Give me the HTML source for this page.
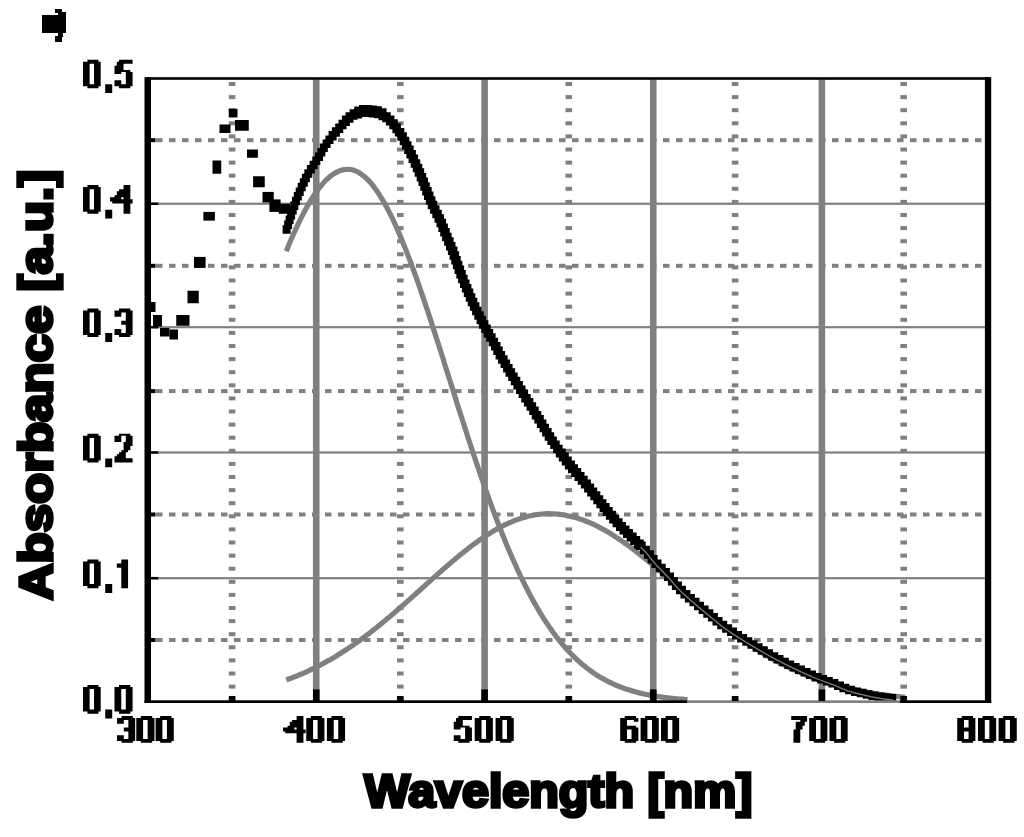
<!DOCTYPE html>
<html><head><meta charset="utf-8"><style>
html,body{margin:0;padding:0;background:#fff;overflow:hidden;}
svg{display:block;will-change:transform;} text{-webkit-font-smoothing:antialiased;}
</style></head><body>
<svg width="1024" height="837" viewBox="0 0 1024 837" >
<rect width="1024" height="837" fill="#fff"/>
<g>
<rect x="156.00" y="638.00" width="6.50" height="4.00" fill="#808080"/>
<rect x="169.00" y="638.00" width="6.50" height="4.00" fill="#808080"/>
<rect x="182.00" y="638.00" width="6.50" height="4.00" fill="#808080"/>
<rect x="195.00" y="638.00" width="6.50" height="4.00" fill="#808080"/>
<rect x="208.00" y="638.00" width="6.50" height="4.00" fill="#808080"/>
<rect x="221.00" y="638.00" width="6.50" height="4.00" fill="#808080"/>
<rect x="234.00" y="638.00" width="6.50" height="4.00" fill="#808080"/>
<rect x="247.00" y="638.00" width="6.50" height="4.00" fill="#808080"/>
<rect x="260.00" y="638.00" width="6.50" height="4.00" fill="#808080"/>
<rect x="273.00" y="638.00" width="6.50" height="4.00" fill="#808080"/>
<rect x="286.00" y="638.00" width="6.50" height="4.00" fill="#808080"/>
<rect x="299.00" y="638.00" width="6.50" height="4.00" fill="#808080"/>
<rect x="312.00" y="638.00" width="6.50" height="4.00" fill="#808080"/>
<rect x="325.00" y="638.00" width="6.50" height="4.00" fill="#808080"/>
<rect x="338.00" y="638.00" width="6.50" height="4.00" fill="#808080"/>
<rect x="351.00" y="638.00" width="6.50" height="4.00" fill="#808080"/>
<rect x="364.00" y="638.00" width="6.50" height="4.00" fill="#808080"/>
<rect x="377.00" y="638.00" width="6.50" height="4.00" fill="#808080"/>
<rect x="390.00" y="638.00" width="6.50" height="4.00" fill="#808080"/>
<rect x="403.00" y="638.00" width="6.50" height="4.00" fill="#808080"/>
<rect x="416.00" y="638.00" width="6.50" height="4.00" fill="#808080"/>
<rect x="429.00" y="638.00" width="6.50" height="4.00" fill="#808080"/>
<rect x="442.00" y="638.00" width="6.50" height="4.00" fill="#808080"/>
<rect x="455.00" y="638.00" width="6.50" height="4.00" fill="#808080"/>
<rect x="468.00" y="638.00" width="6.50" height="4.00" fill="#808080"/>
<rect x="481.00" y="638.00" width="6.50" height="4.00" fill="#808080"/>
<rect x="494.00" y="638.00" width="6.50" height="4.00" fill="#808080"/>
<rect x="507.00" y="638.00" width="6.50" height="4.00" fill="#808080"/>
<rect x="520.00" y="638.00" width="6.50" height="4.00" fill="#808080"/>
<rect x="533.00" y="638.00" width="6.50" height="4.00" fill="#808080"/>
<rect x="546.00" y="638.00" width="6.50" height="4.00" fill="#808080"/>
<rect x="559.00" y="638.00" width="6.50" height="4.00" fill="#808080"/>
<rect x="572.00" y="638.00" width="6.50" height="4.00" fill="#808080"/>
<rect x="585.00" y="638.00" width="6.50" height="4.00" fill="#808080"/>
<rect x="598.00" y="638.00" width="6.50" height="4.00" fill="#808080"/>
<rect x="611.00" y="638.00" width="6.50" height="4.00" fill="#808080"/>
<rect x="624.00" y="638.00" width="6.50" height="4.00" fill="#808080"/>
<rect x="637.00" y="638.00" width="6.50" height="4.00" fill="#808080"/>
<rect x="650.00" y="638.00" width="6.50" height="4.00" fill="#808080"/>
<rect x="663.00" y="638.00" width="6.50" height="4.00" fill="#808080"/>
<rect x="676.00" y="638.00" width="6.50" height="4.00" fill="#808080"/>
<rect x="689.00" y="638.00" width="6.50" height="4.00" fill="#808080"/>
<rect x="702.00" y="638.00" width="6.50" height="4.00" fill="#808080"/>
<rect x="715.00" y="638.00" width="6.50" height="4.00" fill="#808080"/>
<rect x="728.00" y="638.00" width="6.50" height="4.00" fill="#808080"/>
<rect x="741.00" y="638.00" width="6.50" height="4.00" fill="#808080"/>
<rect x="754.00" y="638.00" width="6.50" height="4.00" fill="#808080"/>
<rect x="767.00" y="638.00" width="6.50" height="4.00" fill="#808080"/>
<rect x="780.00" y="638.00" width="6.50" height="4.00" fill="#808080"/>
<rect x="793.00" y="638.00" width="6.50" height="4.00" fill="#808080"/>
<rect x="806.00" y="638.00" width="6.50" height="4.00" fill="#808080"/>
<rect x="819.00" y="638.00" width="6.50" height="4.00" fill="#808080"/>
<rect x="832.00" y="638.00" width="6.50" height="4.00" fill="#808080"/>
<rect x="845.00" y="638.00" width="6.50" height="4.00" fill="#808080"/>
<rect x="858.00" y="638.00" width="6.50" height="4.00" fill="#808080"/>
<rect x="871.00" y="638.00" width="6.50" height="4.00" fill="#808080"/>
<rect x="884.00" y="638.00" width="6.50" height="4.00" fill="#808080"/>
<rect x="897.00" y="638.00" width="6.50" height="4.00" fill="#808080"/>
<rect x="910.00" y="638.00" width="6.50" height="4.00" fill="#808080"/>
<rect x="923.00" y="638.00" width="6.50" height="4.00" fill="#808080"/>
<rect x="936.00" y="638.00" width="6.50" height="4.00" fill="#808080"/>
<rect x="949.00" y="638.00" width="6.50" height="4.00" fill="#808080"/>
<rect x="962.00" y="638.00" width="6.50" height="4.00" fill="#808080"/>
<rect x="975.00" y="638.00" width="6.50" height="4.00" fill="#808080"/>
<rect x="156.00" y="512.50" width="6.50" height="4.00" fill="#808080"/>
<rect x="169.00" y="512.50" width="6.50" height="4.00" fill="#808080"/>
<rect x="182.00" y="512.50" width="6.50" height="4.00" fill="#808080"/>
<rect x="195.00" y="512.50" width="6.50" height="4.00" fill="#808080"/>
<rect x="208.00" y="512.50" width="6.50" height="4.00" fill="#808080"/>
<rect x="221.00" y="512.50" width="6.50" height="4.00" fill="#808080"/>
<rect x="234.00" y="512.50" width="6.50" height="4.00" fill="#808080"/>
<rect x="247.00" y="512.50" width="6.50" height="4.00" fill="#808080"/>
<rect x="260.00" y="512.50" width="6.50" height="4.00" fill="#808080"/>
<rect x="273.00" y="512.50" width="6.50" height="4.00" fill="#808080"/>
<rect x="286.00" y="512.50" width="6.50" height="4.00" fill="#808080"/>
<rect x="299.00" y="512.50" width="6.50" height="4.00" fill="#808080"/>
<rect x="312.00" y="512.50" width="6.50" height="4.00" fill="#808080"/>
<rect x="325.00" y="512.50" width="6.50" height="4.00" fill="#808080"/>
<rect x="338.00" y="512.50" width="6.50" height="4.00" fill="#808080"/>
<rect x="351.00" y="512.50" width="6.50" height="4.00" fill="#808080"/>
<rect x="364.00" y="512.50" width="6.50" height="4.00" fill="#808080"/>
<rect x="377.00" y="512.50" width="6.50" height="4.00" fill="#808080"/>
<rect x="390.00" y="512.50" width="6.50" height="4.00" fill="#808080"/>
<rect x="403.00" y="512.50" width="6.50" height="4.00" fill="#808080"/>
<rect x="416.00" y="512.50" width="6.50" height="4.00" fill="#808080"/>
<rect x="429.00" y="512.50" width="6.50" height="4.00" fill="#808080"/>
<rect x="442.00" y="512.50" width="6.50" height="4.00" fill="#808080"/>
<rect x="455.00" y="512.50" width="6.50" height="4.00" fill="#808080"/>
<rect x="468.00" y="512.50" width="6.50" height="4.00" fill="#808080"/>
<rect x="481.00" y="512.50" width="6.50" height="4.00" fill="#808080"/>
<rect x="494.00" y="512.50" width="6.50" height="4.00" fill="#808080"/>
<rect x="507.00" y="512.50" width="6.50" height="4.00" fill="#808080"/>
<rect x="520.00" y="512.50" width="6.50" height="4.00" fill="#808080"/>
<rect x="533.00" y="512.50" width="6.50" height="4.00" fill="#808080"/>
<rect x="546.00" y="512.50" width="6.50" height="4.00" fill="#808080"/>
<rect x="559.00" y="512.50" width="6.50" height="4.00" fill="#808080"/>
<rect x="572.00" y="512.50" width="6.50" height="4.00" fill="#808080"/>
<rect x="585.00" y="512.50" width="6.50" height="4.00" fill="#808080"/>
<rect x="598.00" y="512.50" width="6.50" height="4.00" fill="#808080"/>
<rect x="611.00" y="512.50" width="6.50" height="4.00" fill="#808080"/>
<rect x="624.00" y="512.50" width="6.50" height="4.00" fill="#808080"/>
<rect x="637.00" y="512.50" width="6.50" height="4.00" fill="#808080"/>
<rect x="650.00" y="512.50" width="6.50" height="4.00" fill="#808080"/>
<rect x="663.00" y="512.50" width="6.50" height="4.00" fill="#808080"/>
<rect x="676.00" y="512.50" width="6.50" height="4.00" fill="#808080"/>
<rect x="689.00" y="512.50" width="6.50" height="4.00" fill="#808080"/>
<rect x="702.00" y="512.50" width="6.50" height="4.00" fill="#808080"/>
<rect x="715.00" y="512.50" width="6.50" height="4.00" fill="#808080"/>
<rect x="728.00" y="512.50" width="6.50" height="4.00" fill="#808080"/>
<rect x="741.00" y="512.50" width="6.50" height="4.00" fill="#808080"/>
<rect x="754.00" y="512.50" width="6.50" height="4.00" fill="#808080"/>
<rect x="767.00" y="512.50" width="6.50" height="4.00" fill="#808080"/>
<rect x="780.00" y="512.50" width="6.50" height="4.00" fill="#808080"/>
<rect x="793.00" y="512.50" width="6.50" height="4.00" fill="#808080"/>
<rect x="806.00" y="512.50" width="6.50" height="4.00" fill="#808080"/>
<rect x="819.00" y="512.50" width="6.50" height="4.00" fill="#808080"/>
<rect x="832.00" y="512.50" width="6.50" height="4.00" fill="#808080"/>
<rect x="845.00" y="512.50" width="6.50" height="4.00" fill="#808080"/>
<rect x="858.00" y="512.50" width="6.50" height="4.00" fill="#808080"/>
<rect x="871.00" y="512.50" width="6.50" height="4.00" fill="#808080"/>
<rect x="884.00" y="512.50" width="6.50" height="4.00" fill="#808080"/>
<rect x="897.00" y="512.50" width="6.50" height="4.00" fill="#808080"/>
<rect x="910.00" y="512.50" width="6.50" height="4.00" fill="#808080"/>
<rect x="923.00" y="512.50" width="6.50" height="4.00" fill="#808080"/>
<rect x="936.00" y="512.50" width="6.50" height="4.00" fill="#808080"/>
<rect x="949.00" y="512.50" width="6.50" height="4.00" fill="#808080"/>
<rect x="962.00" y="512.50" width="6.50" height="4.00" fill="#808080"/>
<rect x="975.00" y="512.50" width="6.50" height="4.00" fill="#808080"/>
<rect x="156.00" y="389.10" width="6.50" height="4.00" fill="#808080"/>
<rect x="169.00" y="389.10" width="6.50" height="4.00" fill="#808080"/>
<rect x="182.00" y="389.10" width="6.50" height="4.00" fill="#808080"/>
<rect x="195.00" y="389.10" width="6.50" height="4.00" fill="#808080"/>
<rect x="208.00" y="389.10" width="6.50" height="4.00" fill="#808080"/>
<rect x="221.00" y="389.10" width="6.50" height="4.00" fill="#808080"/>
<rect x="234.00" y="389.10" width="6.50" height="4.00" fill="#808080"/>
<rect x="247.00" y="389.10" width="6.50" height="4.00" fill="#808080"/>
<rect x="260.00" y="389.10" width="6.50" height="4.00" fill="#808080"/>
<rect x="273.00" y="389.10" width="6.50" height="4.00" fill="#808080"/>
<rect x="286.00" y="389.10" width="6.50" height="4.00" fill="#808080"/>
<rect x="299.00" y="389.10" width="6.50" height="4.00" fill="#808080"/>
<rect x="312.00" y="389.10" width="6.50" height="4.00" fill="#808080"/>
<rect x="325.00" y="389.10" width="6.50" height="4.00" fill="#808080"/>
<rect x="338.00" y="389.10" width="6.50" height="4.00" fill="#808080"/>
<rect x="351.00" y="389.10" width="6.50" height="4.00" fill="#808080"/>
<rect x="364.00" y="389.10" width="6.50" height="4.00" fill="#808080"/>
<rect x="377.00" y="389.10" width="6.50" height="4.00" fill="#808080"/>
<rect x="390.00" y="389.10" width="6.50" height="4.00" fill="#808080"/>
<rect x="403.00" y="389.10" width="6.50" height="4.00" fill="#808080"/>
<rect x="416.00" y="389.10" width="6.50" height="4.00" fill="#808080"/>
<rect x="429.00" y="389.10" width="6.50" height="4.00" fill="#808080"/>
<rect x="442.00" y="389.10" width="6.50" height="4.00" fill="#808080"/>
<rect x="455.00" y="389.10" width="6.50" height="4.00" fill="#808080"/>
<rect x="468.00" y="389.10" width="6.50" height="4.00" fill="#808080"/>
<rect x="481.00" y="389.10" width="6.50" height="4.00" fill="#808080"/>
<rect x="494.00" y="389.10" width="6.50" height="4.00" fill="#808080"/>
<rect x="507.00" y="389.10" width="6.50" height="4.00" fill="#808080"/>
<rect x="520.00" y="389.10" width="6.50" height="4.00" fill="#808080"/>
<rect x="533.00" y="389.10" width="6.50" height="4.00" fill="#808080"/>
<rect x="546.00" y="389.10" width="6.50" height="4.00" fill="#808080"/>
<rect x="559.00" y="389.10" width="6.50" height="4.00" fill="#808080"/>
<rect x="572.00" y="389.10" width="6.50" height="4.00" fill="#808080"/>
<rect x="585.00" y="389.10" width="6.50" height="4.00" fill="#808080"/>
<rect x="598.00" y="389.10" width="6.50" height="4.00" fill="#808080"/>
<rect x="611.00" y="389.10" width="6.50" height="4.00" fill="#808080"/>
<rect x="624.00" y="389.10" width="6.50" height="4.00" fill="#808080"/>
<rect x="637.00" y="389.10" width="6.50" height="4.00" fill="#808080"/>
<rect x="650.00" y="389.10" width="6.50" height="4.00" fill="#808080"/>
<rect x="663.00" y="389.10" width="6.50" height="4.00" fill="#808080"/>
<rect x="676.00" y="389.10" width="6.50" height="4.00" fill="#808080"/>
<rect x="689.00" y="389.10" width="6.50" height="4.00" fill="#808080"/>
<rect x="702.00" y="389.10" width="6.50" height="4.00" fill="#808080"/>
<rect x="715.00" y="389.10" width="6.50" height="4.00" fill="#808080"/>
<rect x="728.00" y="389.10" width="6.50" height="4.00" fill="#808080"/>
<rect x="741.00" y="389.10" width="6.50" height="4.00" fill="#808080"/>
<rect x="754.00" y="389.10" width="6.50" height="4.00" fill="#808080"/>
<rect x="767.00" y="389.10" width="6.50" height="4.00" fill="#808080"/>
<rect x="780.00" y="389.10" width="6.50" height="4.00" fill="#808080"/>
<rect x="793.00" y="389.10" width="6.50" height="4.00" fill="#808080"/>
<rect x="806.00" y="389.10" width="6.50" height="4.00" fill="#808080"/>
<rect x="819.00" y="389.10" width="6.50" height="4.00" fill="#808080"/>
<rect x="832.00" y="389.10" width="6.50" height="4.00" fill="#808080"/>
<rect x="845.00" y="389.10" width="6.50" height="4.00" fill="#808080"/>
<rect x="858.00" y="389.10" width="6.50" height="4.00" fill="#808080"/>
<rect x="871.00" y="389.10" width="6.50" height="4.00" fill="#808080"/>
<rect x="884.00" y="389.10" width="6.50" height="4.00" fill="#808080"/>
<rect x="897.00" y="389.10" width="6.50" height="4.00" fill="#808080"/>
<rect x="910.00" y="389.10" width="6.50" height="4.00" fill="#808080"/>
<rect x="923.00" y="389.10" width="6.50" height="4.00" fill="#808080"/>
<rect x="936.00" y="389.10" width="6.50" height="4.00" fill="#808080"/>
<rect x="949.00" y="389.10" width="6.50" height="4.00" fill="#808080"/>
<rect x="962.00" y="389.10" width="6.50" height="4.00" fill="#808080"/>
<rect x="975.00" y="389.10" width="6.50" height="4.00" fill="#808080"/>
<rect x="156.00" y="263.80" width="6.50" height="4.00" fill="#808080"/>
<rect x="169.00" y="263.80" width="6.50" height="4.00" fill="#808080"/>
<rect x="182.00" y="263.80" width="6.50" height="4.00" fill="#808080"/>
<rect x="195.00" y="263.80" width="6.50" height="4.00" fill="#808080"/>
<rect x="208.00" y="263.80" width="6.50" height="4.00" fill="#808080"/>
<rect x="221.00" y="263.80" width="6.50" height="4.00" fill="#808080"/>
<rect x="234.00" y="263.80" width="6.50" height="4.00" fill="#808080"/>
<rect x="247.00" y="263.80" width="6.50" height="4.00" fill="#808080"/>
<rect x="260.00" y="263.80" width="6.50" height="4.00" fill="#808080"/>
<rect x="273.00" y="263.80" width="6.50" height="4.00" fill="#808080"/>
<rect x="286.00" y="263.80" width="6.50" height="4.00" fill="#808080"/>
<rect x="299.00" y="263.80" width="6.50" height="4.00" fill="#808080"/>
<rect x="312.00" y="263.80" width="6.50" height="4.00" fill="#808080"/>
<rect x="325.00" y="263.80" width="6.50" height="4.00" fill="#808080"/>
<rect x="338.00" y="263.80" width="6.50" height="4.00" fill="#808080"/>
<rect x="351.00" y="263.80" width="6.50" height="4.00" fill="#808080"/>
<rect x="364.00" y="263.80" width="6.50" height="4.00" fill="#808080"/>
<rect x="377.00" y="263.80" width="6.50" height="4.00" fill="#808080"/>
<rect x="390.00" y="263.80" width="6.50" height="4.00" fill="#808080"/>
<rect x="403.00" y="263.80" width="6.50" height="4.00" fill="#808080"/>
<rect x="416.00" y="263.80" width="6.50" height="4.00" fill="#808080"/>
<rect x="429.00" y="263.80" width="6.50" height="4.00" fill="#808080"/>
<rect x="442.00" y="263.80" width="6.50" height="4.00" fill="#808080"/>
<rect x="455.00" y="263.80" width="6.50" height="4.00" fill="#808080"/>
<rect x="468.00" y="263.80" width="6.50" height="4.00" fill="#808080"/>
<rect x="481.00" y="263.80" width="6.50" height="4.00" fill="#808080"/>
<rect x="494.00" y="263.80" width="6.50" height="4.00" fill="#808080"/>
<rect x="507.00" y="263.80" width="6.50" height="4.00" fill="#808080"/>
<rect x="520.00" y="263.80" width="6.50" height="4.00" fill="#808080"/>
<rect x="533.00" y="263.80" width="6.50" height="4.00" fill="#808080"/>
<rect x="546.00" y="263.80" width="6.50" height="4.00" fill="#808080"/>
<rect x="559.00" y="263.80" width="6.50" height="4.00" fill="#808080"/>
<rect x="572.00" y="263.80" width="6.50" height="4.00" fill="#808080"/>
<rect x="585.00" y="263.80" width="6.50" height="4.00" fill="#808080"/>
<rect x="598.00" y="263.80" width="6.50" height="4.00" fill="#808080"/>
<rect x="611.00" y="263.80" width="6.50" height="4.00" fill="#808080"/>
<rect x="624.00" y="263.80" width="6.50" height="4.00" fill="#808080"/>
<rect x="637.00" y="263.80" width="6.50" height="4.00" fill="#808080"/>
<rect x="650.00" y="263.80" width="6.50" height="4.00" fill="#808080"/>
<rect x="663.00" y="263.80" width="6.50" height="4.00" fill="#808080"/>
<rect x="676.00" y="263.80" width="6.50" height="4.00" fill="#808080"/>
<rect x="689.00" y="263.80" width="6.50" height="4.00" fill="#808080"/>
<rect x="702.00" y="263.80" width="6.50" height="4.00" fill="#808080"/>
<rect x="715.00" y="263.80" width="6.50" height="4.00" fill="#808080"/>
<rect x="728.00" y="263.80" width="6.50" height="4.00" fill="#808080"/>
<rect x="741.00" y="263.80" width="6.50" height="4.00" fill="#808080"/>
<rect x="754.00" y="263.80" width="6.50" height="4.00" fill="#808080"/>
<rect x="767.00" y="263.80" width="6.50" height="4.00" fill="#808080"/>
<rect x="780.00" y="263.80" width="6.50" height="4.00" fill="#808080"/>
<rect x="793.00" y="263.80" width="6.50" height="4.00" fill="#808080"/>
<rect x="806.00" y="263.80" width="6.50" height="4.00" fill="#808080"/>
<rect x="819.00" y="263.80" width="6.50" height="4.00" fill="#808080"/>
<rect x="832.00" y="263.80" width="6.50" height="4.00" fill="#808080"/>
<rect x="845.00" y="263.80" width="6.50" height="4.00" fill="#808080"/>
<rect x="858.00" y="263.80" width="6.50" height="4.00" fill="#808080"/>
<rect x="871.00" y="263.80" width="6.50" height="4.00" fill="#808080"/>
<rect x="884.00" y="263.80" width="6.50" height="4.00" fill="#808080"/>
<rect x="897.00" y="263.80" width="6.50" height="4.00" fill="#808080"/>
<rect x="910.00" y="263.80" width="6.50" height="4.00" fill="#808080"/>
<rect x="923.00" y="263.80" width="6.50" height="4.00" fill="#808080"/>
<rect x="936.00" y="263.80" width="6.50" height="4.00" fill="#808080"/>
<rect x="949.00" y="263.80" width="6.50" height="4.00" fill="#808080"/>
<rect x="962.00" y="263.80" width="6.50" height="4.00" fill="#808080"/>
<rect x="975.00" y="263.80" width="6.50" height="4.00" fill="#808080"/>
<rect x="156.00" y="138.20" width="6.50" height="4.00" fill="#808080"/>
<rect x="169.00" y="138.20" width="6.50" height="4.00" fill="#808080"/>
<rect x="182.00" y="138.20" width="6.50" height="4.00" fill="#808080"/>
<rect x="195.00" y="138.20" width="6.50" height="4.00" fill="#808080"/>
<rect x="208.00" y="138.20" width="6.50" height="4.00" fill="#808080"/>
<rect x="221.00" y="138.20" width="6.50" height="4.00" fill="#808080"/>
<rect x="234.00" y="138.20" width="6.50" height="4.00" fill="#808080"/>
<rect x="247.00" y="138.20" width="6.50" height="4.00" fill="#808080"/>
<rect x="260.00" y="138.20" width="6.50" height="4.00" fill="#808080"/>
<rect x="273.00" y="138.20" width="6.50" height="4.00" fill="#808080"/>
<rect x="286.00" y="138.20" width="6.50" height="4.00" fill="#808080"/>
<rect x="299.00" y="138.20" width="6.50" height="4.00" fill="#808080"/>
<rect x="312.00" y="138.20" width="6.50" height="4.00" fill="#808080"/>
<rect x="325.00" y="138.20" width="6.50" height="4.00" fill="#808080"/>
<rect x="338.00" y="138.20" width="6.50" height="4.00" fill="#808080"/>
<rect x="351.00" y="138.20" width="6.50" height="4.00" fill="#808080"/>
<rect x="364.00" y="138.20" width="6.50" height="4.00" fill="#808080"/>
<rect x="377.00" y="138.20" width="6.50" height="4.00" fill="#808080"/>
<rect x="390.00" y="138.20" width="6.50" height="4.00" fill="#808080"/>
<rect x="403.00" y="138.20" width="6.50" height="4.00" fill="#808080"/>
<rect x="416.00" y="138.20" width="6.50" height="4.00" fill="#808080"/>
<rect x="429.00" y="138.20" width="6.50" height="4.00" fill="#808080"/>
<rect x="442.00" y="138.20" width="6.50" height="4.00" fill="#808080"/>
<rect x="455.00" y="138.20" width="6.50" height="4.00" fill="#808080"/>
<rect x="468.00" y="138.20" width="6.50" height="4.00" fill="#808080"/>
<rect x="481.00" y="138.20" width="6.50" height="4.00" fill="#808080"/>
<rect x="494.00" y="138.20" width="6.50" height="4.00" fill="#808080"/>
<rect x="507.00" y="138.20" width="6.50" height="4.00" fill="#808080"/>
<rect x="520.00" y="138.20" width="6.50" height="4.00" fill="#808080"/>
<rect x="533.00" y="138.20" width="6.50" height="4.00" fill="#808080"/>
<rect x="546.00" y="138.20" width="6.50" height="4.00" fill="#808080"/>
<rect x="559.00" y="138.20" width="6.50" height="4.00" fill="#808080"/>
<rect x="572.00" y="138.20" width="6.50" height="4.00" fill="#808080"/>
<rect x="585.00" y="138.20" width="6.50" height="4.00" fill="#808080"/>
<rect x="598.00" y="138.20" width="6.50" height="4.00" fill="#808080"/>
<rect x="611.00" y="138.20" width="6.50" height="4.00" fill="#808080"/>
<rect x="624.00" y="138.20" width="6.50" height="4.00" fill="#808080"/>
<rect x="637.00" y="138.20" width="6.50" height="4.00" fill="#808080"/>
<rect x="650.00" y="138.20" width="6.50" height="4.00" fill="#808080"/>
<rect x="663.00" y="138.20" width="6.50" height="4.00" fill="#808080"/>
<rect x="676.00" y="138.20" width="6.50" height="4.00" fill="#808080"/>
<rect x="689.00" y="138.20" width="6.50" height="4.00" fill="#808080"/>
<rect x="702.00" y="138.20" width="6.50" height="4.00" fill="#808080"/>
<rect x="715.00" y="138.20" width="6.50" height="4.00" fill="#808080"/>
<rect x="728.00" y="138.20" width="6.50" height="4.00" fill="#808080"/>
<rect x="741.00" y="138.20" width="6.50" height="4.00" fill="#808080"/>
<rect x="754.00" y="138.20" width="6.50" height="4.00" fill="#808080"/>
<rect x="767.00" y="138.20" width="6.50" height="4.00" fill="#808080"/>
<rect x="780.00" y="138.20" width="6.50" height="4.00" fill="#808080"/>
<rect x="793.00" y="138.20" width="6.50" height="4.00" fill="#808080"/>
<rect x="806.00" y="138.20" width="6.50" height="4.00" fill="#808080"/>
<rect x="819.00" y="138.20" width="6.50" height="4.00" fill="#808080"/>
<rect x="832.00" y="138.20" width="6.50" height="4.00" fill="#808080"/>
<rect x="845.00" y="138.20" width="6.50" height="4.00" fill="#808080"/>
<rect x="858.00" y="138.20" width="6.50" height="4.00" fill="#808080"/>
<rect x="871.00" y="138.20" width="6.50" height="4.00" fill="#808080"/>
<rect x="884.00" y="138.20" width="6.50" height="4.00" fill="#808080"/>
<rect x="897.00" y="138.20" width="6.50" height="4.00" fill="#808080"/>
<rect x="910.00" y="138.20" width="6.50" height="4.00" fill="#808080"/>
<rect x="923.00" y="138.20" width="6.50" height="4.00" fill="#808080"/>
<rect x="936.00" y="138.20" width="6.50" height="4.00" fill="#808080"/>
<rect x="949.00" y="138.20" width="6.50" height="4.00" fill="#808080"/>
<rect x="962.00" y="138.20" width="6.50" height="4.00" fill="#808080"/>
<rect x="975.00" y="138.20" width="6.50" height="4.00" fill="#808080"/>
<rect x="228.80" y="82.00" width="6.60" height="4.00" fill="#808080"/>
<rect x="228.80" y="95.10" width="6.60" height="4.00" fill="#808080"/>
<rect x="228.80" y="108.20" width="6.60" height="4.00" fill="#808080"/>
<rect x="228.80" y="121.30" width="6.60" height="4.00" fill="#808080"/>
<rect x="228.80" y="134.40" width="6.60" height="4.00" fill="#808080"/>
<rect x="228.80" y="147.50" width="6.60" height="4.00" fill="#808080"/>
<rect x="228.80" y="160.60" width="6.60" height="4.00" fill="#808080"/>
<rect x="228.80" y="173.70" width="6.60" height="4.00" fill="#808080"/>
<rect x="228.80" y="186.80" width="6.60" height="4.00" fill="#808080"/>
<rect x="228.80" y="199.90" width="6.60" height="4.00" fill="#808080"/>
<rect x="228.80" y="213.00" width="6.60" height="4.00" fill="#808080"/>
<rect x="228.80" y="226.10" width="6.60" height="4.00" fill="#808080"/>
<rect x="228.80" y="239.20" width="6.60" height="4.00" fill="#808080"/>
<rect x="228.80" y="252.30" width="6.60" height="4.00" fill="#808080"/>
<rect x="228.80" y="265.40" width="6.60" height="4.00" fill="#808080"/>
<rect x="228.80" y="278.50" width="6.60" height="4.00" fill="#808080"/>
<rect x="228.80" y="291.60" width="6.60" height="4.00" fill="#808080"/>
<rect x="228.80" y="304.70" width="6.60" height="4.00" fill="#808080"/>
<rect x="228.80" y="317.80" width="6.60" height="4.00" fill="#808080"/>
<rect x="228.80" y="330.90" width="6.60" height="4.00" fill="#808080"/>
<rect x="228.80" y="344.00" width="6.60" height="4.00" fill="#808080"/>
<rect x="228.80" y="357.10" width="6.60" height="4.00" fill="#808080"/>
<rect x="228.80" y="370.20" width="6.60" height="4.00" fill="#808080"/>
<rect x="228.80" y="383.30" width="6.60" height="4.00" fill="#808080"/>
<rect x="228.80" y="396.40" width="6.60" height="4.00" fill="#808080"/>
<rect x="228.80" y="409.50" width="6.60" height="4.00" fill="#808080"/>
<rect x="228.80" y="422.60" width="6.60" height="4.00" fill="#808080"/>
<rect x="228.80" y="435.70" width="6.60" height="4.00" fill="#808080"/>
<rect x="228.80" y="448.80" width="6.60" height="4.00" fill="#808080"/>
<rect x="228.80" y="461.90" width="6.60" height="4.00" fill="#808080"/>
<rect x="228.80" y="475.00" width="6.60" height="4.00" fill="#808080"/>
<rect x="228.80" y="488.10" width="6.60" height="4.00" fill="#808080"/>
<rect x="228.80" y="501.20" width="6.60" height="4.00" fill="#808080"/>
<rect x="228.80" y="514.30" width="6.60" height="4.00" fill="#808080"/>
<rect x="228.80" y="527.40" width="6.60" height="4.00" fill="#808080"/>
<rect x="228.80" y="540.50" width="6.60" height="4.00" fill="#808080"/>
<rect x="228.80" y="553.60" width="6.60" height="4.00" fill="#808080"/>
<rect x="228.80" y="566.70" width="6.60" height="4.00" fill="#808080"/>
<rect x="228.80" y="579.80" width="6.60" height="4.00" fill="#808080"/>
<rect x="228.80" y="592.90" width="6.60" height="4.00" fill="#808080"/>
<rect x="228.80" y="606.00" width="6.60" height="4.00" fill="#808080"/>
<rect x="228.80" y="619.10" width="6.60" height="4.00" fill="#808080"/>
<rect x="228.80" y="632.20" width="6.60" height="4.00" fill="#808080"/>
<rect x="228.80" y="645.30" width="6.60" height="4.00" fill="#808080"/>
<rect x="228.80" y="658.40" width="6.60" height="4.00" fill="#808080"/>
<rect x="228.80" y="671.50" width="6.60" height="4.00" fill="#808080"/>
<rect x="228.80" y="684.60" width="6.60" height="4.00" fill="#808080"/>
<rect x="228.80" y="697.70" width="6.60" height="2.30" fill="#808080"/>
<rect x="397.00" y="82.00" width="6.60" height="4.00" fill="#808080"/>
<rect x="397.00" y="95.10" width="6.60" height="4.00" fill="#808080"/>
<rect x="397.00" y="108.20" width="6.60" height="4.00" fill="#808080"/>
<rect x="397.00" y="121.30" width="6.60" height="4.00" fill="#808080"/>
<rect x="397.00" y="134.40" width="6.60" height="4.00" fill="#808080"/>
<rect x="397.00" y="147.50" width="6.60" height="4.00" fill="#808080"/>
<rect x="397.00" y="160.60" width="6.60" height="4.00" fill="#808080"/>
<rect x="397.00" y="173.70" width="6.60" height="4.00" fill="#808080"/>
<rect x="397.00" y="186.80" width="6.60" height="4.00" fill="#808080"/>
<rect x="397.00" y="199.90" width="6.60" height="4.00" fill="#808080"/>
<rect x="397.00" y="213.00" width="6.60" height="4.00" fill="#808080"/>
<rect x="397.00" y="226.10" width="6.60" height="4.00" fill="#808080"/>
<rect x="397.00" y="239.20" width="6.60" height="4.00" fill="#808080"/>
<rect x="397.00" y="252.30" width="6.60" height="4.00" fill="#808080"/>
<rect x="397.00" y="265.40" width="6.60" height="4.00" fill="#808080"/>
<rect x="397.00" y="278.50" width="6.60" height="4.00" fill="#808080"/>
<rect x="397.00" y="291.60" width="6.60" height="4.00" fill="#808080"/>
<rect x="397.00" y="304.70" width="6.60" height="4.00" fill="#808080"/>
<rect x="397.00" y="317.80" width="6.60" height="4.00" fill="#808080"/>
<rect x="397.00" y="330.90" width="6.60" height="4.00" fill="#808080"/>
<rect x="397.00" y="344.00" width="6.60" height="4.00" fill="#808080"/>
<rect x="397.00" y="357.10" width="6.60" height="4.00" fill="#808080"/>
<rect x="397.00" y="370.20" width="6.60" height="4.00" fill="#808080"/>
<rect x="397.00" y="383.30" width="6.60" height="4.00" fill="#808080"/>
<rect x="397.00" y="396.40" width="6.60" height="4.00" fill="#808080"/>
<rect x="397.00" y="409.50" width="6.60" height="4.00" fill="#808080"/>
<rect x="397.00" y="422.60" width="6.60" height="4.00" fill="#808080"/>
<rect x="397.00" y="435.70" width="6.60" height="4.00" fill="#808080"/>
<rect x="397.00" y="448.80" width="6.60" height="4.00" fill="#808080"/>
<rect x="397.00" y="461.90" width="6.60" height="4.00" fill="#808080"/>
<rect x="397.00" y="475.00" width="6.60" height="4.00" fill="#808080"/>
<rect x="397.00" y="488.10" width="6.60" height="4.00" fill="#808080"/>
<rect x="397.00" y="501.20" width="6.60" height="4.00" fill="#808080"/>
<rect x="397.00" y="514.30" width="6.60" height="4.00" fill="#808080"/>
<rect x="397.00" y="527.40" width="6.60" height="4.00" fill="#808080"/>
<rect x="397.00" y="540.50" width="6.60" height="4.00" fill="#808080"/>
<rect x="397.00" y="553.60" width="6.60" height="4.00" fill="#808080"/>
<rect x="397.00" y="566.70" width="6.60" height="4.00" fill="#808080"/>
<rect x="397.00" y="579.80" width="6.60" height="4.00" fill="#808080"/>
<rect x="397.00" y="592.90" width="6.60" height="4.00" fill="#808080"/>
<rect x="397.00" y="606.00" width="6.60" height="4.00" fill="#808080"/>
<rect x="397.00" y="619.10" width="6.60" height="4.00" fill="#808080"/>
<rect x="397.00" y="632.20" width="6.60" height="4.00" fill="#808080"/>
<rect x="397.00" y="645.30" width="6.60" height="4.00" fill="#808080"/>
<rect x="397.00" y="658.40" width="6.60" height="4.00" fill="#808080"/>
<rect x="397.00" y="671.50" width="6.60" height="4.00" fill="#808080"/>
<rect x="397.00" y="684.60" width="6.60" height="4.00" fill="#808080"/>
<rect x="397.00" y="697.70" width="6.60" height="2.30" fill="#808080"/>
<rect x="565.50" y="82.00" width="6.60" height="4.00" fill="#808080"/>
<rect x="565.50" y="95.10" width="6.60" height="4.00" fill="#808080"/>
<rect x="565.50" y="108.20" width="6.60" height="4.00" fill="#808080"/>
<rect x="565.50" y="121.30" width="6.60" height="4.00" fill="#808080"/>
<rect x="565.50" y="134.40" width="6.60" height="4.00" fill="#808080"/>
<rect x="565.50" y="147.50" width="6.60" height="4.00" fill="#808080"/>
<rect x="565.50" y="160.60" width="6.60" height="4.00" fill="#808080"/>
<rect x="565.50" y="173.70" width="6.60" height="4.00" fill="#808080"/>
<rect x="565.50" y="186.80" width="6.60" height="4.00" fill="#808080"/>
<rect x="565.50" y="199.90" width="6.60" height="4.00" fill="#808080"/>
<rect x="565.50" y="213.00" width="6.60" height="4.00" fill="#808080"/>
<rect x="565.50" y="226.10" width="6.60" height="4.00" fill="#808080"/>
<rect x="565.50" y="239.20" width="6.60" height="4.00" fill="#808080"/>
<rect x="565.50" y="252.30" width="6.60" height="4.00" fill="#808080"/>
<rect x="565.50" y="265.40" width="6.60" height="4.00" fill="#808080"/>
<rect x="565.50" y="278.50" width="6.60" height="4.00" fill="#808080"/>
<rect x="565.50" y="291.60" width="6.60" height="4.00" fill="#808080"/>
<rect x="565.50" y="304.70" width="6.60" height="4.00" fill="#808080"/>
<rect x="565.50" y="317.80" width="6.60" height="4.00" fill="#808080"/>
<rect x="565.50" y="330.90" width="6.60" height="4.00" fill="#808080"/>
<rect x="565.50" y="344.00" width="6.60" height="4.00" fill="#808080"/>
<rect x="565.50" y="357.10" width="6.60" height="4.00" fill="#808080"/>
<rect x="565.50" y="370.20" width="6.60" height="4.00" fill="#808080"/>
<rect x="565.50" y="383.30" width="6.60" height="4.00" fill="#808080"/>
<rect x="565.50" y="396.40" width="6.60" height="4.00" fill="#808080"/>
<rect x="565.50" y="409.50" width="6.60" height="4.00" fill="#808080"/>
<rect x="565.50" y="422.60" width="6.60" height="4.00" fill="#808080"/>
<rect x="565.50" y="435.70" width="6.60" height="4.00" fill="#808080"/>
<rect x="565.50" y="448.80" width="6.60" height="4.00" fill="#808080"/>
<rect x="565.50" y="461.90" width="6.60" height="4.00" fill="#808080"/>
<rect x="565.50" y="475.00" width="6.60" height="4.00" fill="#808080"/>
<rect x="565.50" y="488.10" width="6.60" height="4.00" fill="#808080"/>
<rect x="565.50" y="501.20" width="6.60" height="4.00" fill="#808080"/>
<rect x="565.50" y="514.30" width="6.60" height="4.00" fill="#808080"/>
<rect x="565.50" y="527.40" width="6.60" height="4.00" fill="#808080"/>
<rect x="565.50" y="540.50" width="6.60" height="4.00" fill="#808080"/>
<rect x="565.50" y="553.60" width="6.60" height="4.00" fill="#808080"/>
<rect x="565.50" y="566.70" width="6.60" height="4.00" fill="#808080"/>
<rect x="565.50" y="579.80" width="6.60" height="4.00" fill="#808080"/>
<rect x="565.50" y="592.90" width="6.60" height="4.00" fill="#808080"/>
<rect x="565.50" y="606.00" width="6.60" height="4.00" fill="#808080"/>
<rect x="565.50" y="619.10" width="6.60" height="4.00" fill="#808080"/>
<rect x="565.50" y="632.20" width="6.60" height="4.00" fill="#808080"/>
<rect x="565.50" y="645.30" width="6.60" height="4.00" fill="#808080"/>
<rect x="565.50" y="658.40" width="6.60" height="4.00" fill="#808080"/>
<rect x="565.50" y="671.50" width="6.60" height="4.00" fill="#808080"/>
<rect x="565.50" y="684.60" width="6.60" height="4.00" fill="#808080"/>
<rect x="565.50" y="697.70" width="6.60" height="2.30" fill="#808080"/>
<rect x="731.80" y="82.00" width="6.60" height="4.00" fill="#808080"/>
<rect x="731.80" y="95.10" width="6.60" height="4.00" fill="#808080"/>
<rect x="731.80" y="108.20" width="6.60" height="4.00" fill="#808080"/>
<rect x="731.80" y="121.30" width="6.60" height="4.00" fill="#808080"/>
<rect x="731.80" y="134.40" width="6.60" height="4.00" fill="#808080"/>
<rect x="731.80" y="147.50" width="6.60" height="4.00" fill="#808080"/>
<rect x="731.80" y="160.60" width="6.60" height="4.00" fill="#808080"/>
<rect x="731.80" y="173.70" width="6.60" height="4.00" fill="#808080"/>
<rect x="731.80" y="186.80" width="6.60" height="4.00" fill="#808080"/>
<rect x="731.80" y="199.90" width="6.60" height="4.00" fill="#808080"/>
<rect x="731.80" y="213.00" width="6.60" height="4.00" fill="#808080"/>
<rect x="731.80" y="226.10" width="6.60" height="4.00" fill="#808080"/>
<rect x="731.80" y="239.20" width="6.60" height="4.00" fill="#808080"/>
<rect x="731.80" y="252.30" width="6.60" height="4.00" fill="#808080"/>
<rect x="731.80" y="265.40" width="6.60" height="4.00" fill="#808080"/>
<rect x="731.80" y="278.50" width="6.60" height="4.00" fill="#808080"/>
<rect x="731.80" y="291.60" width="6.60" height="4.00" fill="#808080"/>
<rect x="731.80" y="304.70" width="6.60" height="4.00" fill="#808080"/>
<rect x="731.80" y="317.80" width="6.60" height="4.00" fill="#808080"/>
<rect x="731.80" y="330.90" width="6.60" height="4.00" fill="#808080"/>
<rect x="731.80" y="344.00" width="6.60" height="4.00" fill="#808080"/>
<rect x="731.80" y="357.10" width="6.60" height="4.00" fill="#808080"/>
<rect x="731.80" y="370.20" width="6.60" height="4.00" fill="#808080"/>
<rect x="731.80" y="383.30" width="6.60" height="4.00" fill="#808080"/>
<rect x="731.80" y="396.40" width="6.60" height="4.00" fill="#808080"/>
<rect x="731.80" y="409.50" width="6.60" height="4.00" fill="#808080"/>
<rect x="731.80" y="422.60" width="6.60" height="4.00" fill="#808080"/>
<rect x="731.80" y="435.70" width="6.60" height="4.00" fill="#808080"/>
<rect x="731.80" y="448.80" width="6.60" height="4.00" fill="#808080"/>
<rect x="731.80" y="461.90" width="6.60" height="4.00" fill="#808080"/>
<rect x="731.80" y="475.00" width="6.60" height="4.00" fill="#808080"/>
<rect x="731.80" y="488.10" width="6.60" height="4.00" fill="#808080"/>
<rect x="731.80" y="501.20" width="6.60" height="4.00" fill="#808080"/>
<rect x="731.80" y="514.30" width="6.60" height="4.00" fill="#808080"/>
<rect x="731.80" y="527.40" width="6.60" height="4.00" fill="#808080"/>
<rect x="731.80" y="540.50" width="6.60" height="4.00" fill="#808080"/>
<rect x="731.80" y="553.60" width="6.60" height="4.00" fill="#808080"/>
<rect x="731.80" y="566.70" width="6.60" height="4.00" fill="#808080"/>
<rect x="731.80" y="579.80" width="6.60" height="4.00" fill="#808080"/>
<rect x="731.80" y="592.90" width="6.60" height="4.00" fill="#808080"/>
<rect x="731.80" y="606.00" width="6.60" height="4.00" fill="#808080"/>
<rect x="731.80" y="619.10" width="6.60" height="4.00" fill="#808080"/>
<rect x="731.80" y="632.20" width="6.60" height="4.00" fill="#808080"/>
<rect x="731.80" y="645.30" width="6.60" height="4.00" fill="#808080"/>
<rect x="731.80" y="658.40" width="6.60" height="4.00" fill="#808080"/>
<rect x="731.80" y="671.50" width="6.60" height="4.00" fill="#808080"/>
<rect x="731.80" y="684.60" width="6.60" height="4.00" fill="#808080"/>
<rect x="731.80" y="697.70" width="6.60" height="2.30" fill="#808080"/>
<rect x="900.40" y="82.00" width="6.60" height="4.00" fill="#808080"/>
<rect x="900.40" y="95.10" width="6.60" height="4.00" fill="#808080"/>
<rect x="900.40" y="108.20" width="6.60" height="4.00" fill="#808080"/>
<rect x="900.40" y="121.30" width="6.60" height="4.00" fill="#808080"/>
<rect x="900.40" y="134.40" width="6.60" height="4.00" fill="#808080"/>
<rect x="900.40" y="147.50" width="6.60" height="4.00" fill="#808080"/>
<rect x="900.40" y="160.60" width="6.60" height="4.00" fill="#808080"/>
<rect x="900.40" y="173.70" width="6.60" height="4.00" fill="#808080"/>
<rect x="900.40" y="186.80" width="6.60" height="4.00" fill="#808080"/>
<rect x="900.40" y="199.90" width="6.60" height="4.00" fill="#808080"/>
<rect x="900.40" y="213.00" width="6.60" height="4.00" fill="#808080"/>
<rect x="900.40" y="226.10" width="6.60" height="4.00" fill="#808080"/>
<rect x="900.40" y="239.20" width="6.60" height="4.00" fill="#808080"/>
<rect x="900.40" y="252.30" width="6.60" height="4.00" fill="#808080"/>
<rect x="900.40" y="265.40" width="6.60" height="4.00" fill="#808080"/>
<rect x="900.40" y="278.50" width="6.60" height="4.00" fill="#808080"/>
<rect x="900.40" y="291.60" width="6.60" height="4.00" fill="#808080"/>
<rect x="900.40" y="304.70" width="6.60" height="4.00" fill="#808080"/>
<rect x="900.40" y="317.80" width="6.60" height="4.00" fill="#808080"/>
<rect x="900.40" y="330.90" width="6.60" height="4.00" fill="#808080"/>
<rect x="900.40" y="344.00" width="6.60" height="4.00" fill="#808080"/>
<rect x="900.40" y="357.10" width="6.60" height="4.00" fill="#808080"/>
<rect x="900.40" y="370.20" width="6.60" height="4.00" fill="#808080"/>
<rect x="900.40" y="383.30" width="6.60" height="4.00" fill="#808080"/>
<rect x="900.40" y="396.40" width="6.60" height="4.00" fill="#808080"/>
<rect x="900.40" y="409.50" width="6.60" height="4.00" fill="#808080"/>
<rect x="900.40" y="422.60" width="6.60" height="4.00" fill="#808080"/>
<rect x="900.40" y="435.70" width="6.60" height="4.00" fill="#808080"/>
<rect x="900.40" y="448.80" width="6.60" height="4.00" fill="#808080"/>
<rect x="900.40" y="461.90" width="6.60" height="4.00" fill="#808080"/>
<rect x="900.40" y="475.00" width="6.60" height="4.00" fill="#808080"/>
<rect x="900.40" y="488.10" width="6.60" height="4.00" fill="#808080"/>
<rect x="900.40" y="501.20" width="6.60" height="4.00" fill="#808080"/>
<rect x="900.40" y="514.30" width="6.60" height="4.00" fill="#808080"/>
<rect x="900.40" y="527.40" width="6.60" height="4.00" fill="#808080"/>
<rect x="900.40" y="540.50" width="6.60" height="4.00" fill="#808080"/>
<rect x="900.40" y="553.60" width="6.60" height="4.00" fill="#808080"/>
<rect x="900.40" y="566.70" width="6.60" height="4.00" fill="#808080"/>
<rect x="900.40" y="579.80" width="6.60" height="4.00" fill="#808080"/>
<rect x="900.40" y="592.90" width="6.60" height="4.00" fill="#808080"/>
<rect x="900.40" y="606.00" width="6.60" height="4.00" fill="#808080"/>
<rect x="900.40" y="619.10" width="6.60" height="4.00" fill="#808080"/>
<rect x="900.40" y="632.20" width="6.60" height="4.00" fill="#808080"/>
<rect x="900.40" y="645.30" width="6.60" height="4.00" fill="#808080"/>
<rect x="900.40" y="658.40" width="6.60" height="4.00" fill="#808080"/>
<rect x="900.40" y="671.50" width="6.60" height="4.00" fill="#808080"/>
<rect x="900.40" y="684.60" width="6.60" height="4.00" fill="#808080"/>
<rect x="900.40" y="697.70" width="6.60" height="2.30" fill="#808080"/>
<rect x="151.00" y="577.10" width="834.00" height="2.20" fill="#808080"/>
<rect x="151.00" y="451.40" width="834.00" height="2.20" fill="#808080"/>
<rect x="151.00" y="326.10" width="834.00" height="2.20" fill="#808080"/>
<rect x="151.00" y="202.65" width="834.00" height="2.20" fill="#808080"/>
<rect x="312.95" y="79.50" width="6.60" height="621.00" fill="#808080"/>
<rect x="481.30" y="79.50" width="6.60" height="621.00" fill="#808080"/>
<rect x="649.95" y="79.50" width="6.60" height="621.00" fill="#808080"/>
<rect x="818.60" y="79.50" width="6.60" height="621.00" fill="#808080"/>
<path d="M286.3,679.9 L287.9,679.3 L289.6,678.7 L291.3,678.1 L293.0,677.4 L294.7,676.8 L296.4,676.1 L298.1,675.4 L299.7,674.7 L301.4,674.0 L303.1,673.3 L304.8,672.5 L306.5,671.8 L308.2,671.0 L309.9,670.2 L311.5,669.4 L313.2,668.6 L314.9,667.8 L316.6,666.9 L318.3,666.1 L320.0,665.2 L321.7,664.3 L323.3,663.4 L325.0,662.5 L326.7,661.6 L328.4,660.6 L330.1,659.7 L331.8,658.7 L333.5,657.7 L335.2,656.7 L336.8,655.7 L338.5,654.6 L340.2,653.6 L341.9,652.5 L343.6,651.4 L345.3,650.3 L347.0,649.2 L348.6,648.1 L350.3,647.0 L352.0,645.8 L353.7,644.7 L355.4,643.5 L357.1,642.3 L358.8,641.1 L360.4,639.9 L362.1,638.6 L363.8,637.4 L365.5,636.1 L367.2,634.8 L368.9,633.6 L370.6,632.3 L372.2,630.9 L373.9,629.6 L375.6,628.3 L377.3,626.9 L379.0,625.6 L380.7,624.2 L382.4,622.8 L384.0,621.4 L385.7,620.0 L387.4,618.6 L389.1,617.2 L390.8,615.8 L392.5,614.3 L394.2,612.9 L395.8,611.4 L397.5,610.0 L399.2,608.5 L400.9,607.0 L402.6,605.6 L404.3,604.1 L406.0,602.6 L407.6,601.1 L409.3,599.6 L411.0,598.1 L412.7,596.6 L414.4,595.1 L416.1,593.5 L417.8,592.0 L419.5,590.5 L421.1,589.0 L422.8,587.5 L424.5,586.0 L426.2,584.4 L427.9,582.9 L429.6,581.4 L431.3,579.9 L432.9,578.4 L434.6,576.9 L436.3,575.4 L438.0,573.9 L439.7,572.4 L441.4,570.9 L443.1,569.4 L444.7,567.9 L446.4,566.5 L448.1,565.0 L449.8,563.6 L451.5,562.1 L453.2,560.7 L454.9,559.3 L456.5,557.9 L458.2,556.5 L459.9,555.1 L461.6,553.7 L463.3,552.4 L465.0,551.0 L466.7,549.7 L468.3,548.4 L470.0,547.1 L471.7,545.8 L473.4,544.5 L475.1,543.3 L476.8,542.1 L478.5,540.9 L480.1,539.7 L481.8,538.5 L483.5,537.4 L485.2,536.2 L486.9,535.1 L488.6,534.0 L490.3,533.0 L491.9,532.0 L493.6,530.9 L495.3,530.0 L497.0,529.0 L498.7,528.1 L500.4,527.2 L502.1,526.3 L503.8,525.4 L505.4,524.6 L507.1,523.8 L508.8,523.0 L510.5,522.3 L512.2,521.6 L513.9,520.9 L515.6,520.2 L517.2,519.6 L518.9,519.0 L520.6,518.4 L522.3,517.9 L524.0,517.4 L525.7,516.9 L527.4,516.5 L529.0,516.1 L530.7,515.7 L532.4,515.4 L534.1,515.0 L535.8,514.8 L537.5,514.5 L539.2,514.3 L540.8,514.1 L542.5,514.0 L544.2,513.9 L545.9,513.8 L547.6,513.7 L549.3,513.7 L551.0,513.8 L552.6,513.8 L554.3,513.9 L556.0,514.0 L557.7,514.1 L559.4,514.3 L561.1,514.5 L562.8,514.8 L564.4,515.0 L566.1,515.3 L567.8,515.7 L569.5,516.0 L571.2,516.4 L572.9,516.9 L574.6,517.3 L576.2,517.8 L577.9,518.3 L579.6,518.9 L581.3,519.4 L583.0,520.0 L584.7,520.7 L586.4,521.3 L588.1,522.0 L589.7,522.7 L591.4,523.5 L593.1,524.2 L594.8,525.0 L596.5,525.8 L598.2,526.7 L599.9,527.6 L601.5,528.5 L603.2,529.4 L604.9,530.3 L606.6,531.3 L608.3,532.3 L610.0,533.3 L611.7,534.3 L613.3,535.4 L615.0,536.5 L616.7,537.6 L618.4,538.7 L620.1,539.8 L621.8,541.0 L623.5,542.1 L625.1,543.3 L626.8,544.5 L628.5,545.8 L630.2,547.0 L631.9,548.3 L633.6,549.6 L635.3,550.9 L636.9,552.2 L638.6,553.5 L640.3,554.8 L642.0,556.2 L643.7,557.5 L645.4,558.9 L647.1,560.3 L648.7,561.6 L650.4,563.0 L652.1,564.4 L653.8,565.9 L655.5,567.3 L657.2,568.7 L658.9,570.2 L660.5,571.6 L662.2,573.1 L663.9,574.5 L665.6,576.0 L667.3,577.4 L669.0,578.9 L670.7,580.4 L672.4,581.9 L674.0,583.3 L675.7,584.8 L677.4,586.3 L679.1,587.8 L680.8,589.2 L682.5,590.7 L684.2,592.2 L685.8,593.7 L687.5,595.1 L689.2,596.6 L690.9,598.1 L692.6,599.6 L694.3,601.0 L696.0,602.5 L697.6,603.9 L699.3,605.4 L701.0,606.8 L702.7,608.2 L704.4,609.7 L706.1,611.1 L707.8,612.5 L709.4,613.9 L711.1,615.3 L712.8,616.7 L714.5,618.1 L716.2,619.5 L717.9,620.8 L719.6,622.2 L721.2,623.5 L722.9,624.9 L724.6,626.2 L726.3,627.5 L728.0,628.8 L729.7,630.1 L731.4,631.4 L733.0,632.7 L734.7,634.0 L736.4,635.2 L738.1,636.4 L739.8,637.7 L741.5,638.9 L743.2,640.1 L744.8,641.3 L746.5,642.4 L748.2,643.6 L749.9,644.7 L751.6,645.9 L753.3,647.0 L755.0,648.1 L756.7,649.2 L758.3,650.3 L760.0,651.3 L761.7,652.4 L763.4,653.4 L765.1,654.5 L766.8,655.5 L768.5,656.5 L770.1,657.4 L771.8,658.4 L773.5,659.4 L775.2,660.3 L776.9,661.2 L778.6,662.1 L780.3,663.0 L781.9,663.9 L783.6,664.8 L785.3,665.7 L787.0,666.5 L788.7,667.3 L790.4,668.1 L792.1,668.9 L793.7,669.7 L795.4,670.5 L797.1,671.3 L798.8,672.0 L800.5,672.7 L802.2,673.4 L803.9,674.2 L805.5,674.8 L807.2,675.5 L808.9,676.2 L810.6,676.8 L812.3,677.5 L814.0,678.1 L815.7,678.7 L817.3,679.3 L819.0,679.9 L820.7,680.5 L822.4,681.1 L824.1,681.6 L825.8,682.2 L827.5,682.7 L829.1,683.2 L830.8,683.7 L832.5,684.2 L834.2,684.7 L835.9,685.2 L837.6,685.7 L839.3,686.1 L841.0,686.5 L842.6,687.0 L844.3,687.4 L846.0,687.8 L847.7,688.2 L849.4,688.6 L851.1,689.0 L852.8,689.4 L854.4,689.7 L856.1,690.1 L857.8,690.5 L859.5,690.8 L861.2,691.1 L862.9,691.4 L864.6,691.8 L866.2,692.1 L867.9,692.4 L869.6,692.7 L871.3,692.9 L873.0,693.2 L874.7,693.5 L876.4,693.7 L878.0,694.0 L879.7,694.2 L881.4,694.5 L883.1,694.7 L884.8,694.9 L886.5,695.2 L888.2,695.4 L889.8,695.6 L891.5,695.8 L893.2,696.0 L894.9,696.2 L896.6,696.4 L898.3,696.5 L900.0,696.7 L901.6,696.9 L903.3,697.0 L905.0,697.2" fill="none" stroke="#808080" stroke-width="5.2" stroke-linejoin="round"/>
<path d="M286.3,251.2 L287.9,247.1 L289.6,243.1 L291.3,239.1 L293.0,235.3 L294.7,231.5 L296.4,227.8 L298.1,224.2 L299.7,220.8 L301.4,217.4 L303.1,214.1 L304.8,210.9 L306.5,207.8 L308.2,204.8 L309.9,201.9 L311.5,199.2 L313.2,196.5 L314.9,194.0 L316.6,191.5 L318.3,189.2 L320.0,187.0 L321.7,185.0 L323.3,183.0 L325.0,181.2 L326.7,179.5 L328.4,178.0 L330.1,176.5 L331.8,175.2 L333.5,174.0 L335.2,173.0 L336.8,172.1 L338.5,171.3 L340.2,170.6 L341.9,170.1 L343.6,169.7 L345.3,169.5 L347.0,169.3 L348.6,169.4 L350.3,169.5 L352.0,169.8 L353.7,170.3 L355.4,170.9 L357.1,171.6 L358.8,172.5 L360.4,173.6 L362.1,174.8 L363.8,176.1 L365.5,177.5 L367.2,179.1 L368.9,180.9 L370.6,182.7 L372.2,184.7 L373.9,186.9 L375.6,189.2 L377.3,191.6 L379.0,194.1 L380.7,196.8 L382.4,199.5 L384.0,202.4 L385.7,205.5 L387.4,208.6 L389.1,211.9 L390.8,215.2 L392.5,218.7 L394.2,222.3 L395.8,226.0 L397.5,229.8 L399.2,233.6 L400.9,237.6 L402.6,241.7 L404.3,245.9 L406.0,250.1 L407.6,254.4 L409.3,258.9 L411.0,263.3 L412.7,267.9 L414.4,272.5 L416.1,277.2 L417.8,282.0 L419.5,286.8 L421.1,291.7 L422.8,296.6 L424.5,301.6 L426.2,306.7 L427.9,311.7 L429.6,316.9 L431.3,322.0 L432.9,327.2 L434.6,332.4 L436.3,337.7 L438.0,342.9 L439.7,348.2 L441.4,353.5 L443.1,358.8 L444.7,364.2 L446.4,369.5 L448.1,374.9 L449.8,380.2 L451.5,385.6 L453.2,390.9 L454.9,396.2 L456.5,401.6 L458.2,406.9 L459.9,412.2 L461.6,417.5 L463.3,422.7 L465.0,428.0 L466.7,433.2 L468.3,438.4 L470.0,443.5 L471.7,448.7 L473.4,453.8 L475.1,458.8 L476.8,463.8 L478.5,468.8 L480.1,473.8 L481.8,478.7 L483.5,483.5 L485.2,488.3 L486.9,493.1 L488.6,497.8 L490.3,502.4 L491.9,507.0 L493.6,511.6 L495.3,516.1 L497.0,520.5 L498.7,524.9 L500.4,529.2 L502.1,533.4 L503.8,537.6 L505.4,541.8 L507.1,545.9 L508.8,549.9 L510.5,553.8 L512.2,557.7 L513.9,561.5 L515.6,565.3 L517.2,569.0 L518.9,572.6 L520.6,576.2 L522.3,579.7 L524.0,583.1 L525.7,586.5 L527.4,589.8 L529.0,593.0 L530.7,596.2 L532.4,599.3 L534.1,602.4 L535.8,605.3 L537.5,608.3 L539.2,611.1 L540.8,613.9 L542.5,616.6 L544.2,619.3 L545.9,621.9 L547.6,624.4 L549.3,626.9 L551.0,629.3 L552.6,631.7 L554.3,634.0 L556.0,636.3 L557.7,638.4 L559.4,640.6 L561.1,642.7 L562.8,644.7 L564.4,646.6 L566.1,648.6 L567.8,650.4 L569.5,652.2 L571.2,654.0 L572.9,655.7 L574.6,657.4 L576.2,659.0 L577.9,660.5 L579.6,662.0 L581.3,663.5 L583.0,664.9 L584.7,666.3 L586.4,667.7 L588.1,669.0 L589.7,670.2 L591.4,671.4 L593.1,672.6 L594.8,673.8 L596.5,674.9 L598.2,675.9 L599.9,677.0 L601.5,677.9 L603.2,678.9 L604.9,679.8 L606.6,680.7 L608.3,681.6 L610.0,682.4 L611.7,683.2 L613.3,684.0 L615.0,684.8 L616.7,685.5 L618.4,686.2 L620.1,686.8 L621.8,687.5 L623.5,688.1 L625.1,688.7 L626.8,689.3 L628.5,689.8 L630.2,690.3 L631.9,690.9 L633.6,691.3 L635.3,691.8 L636.9,692.3 L638.6,692.7 L640.3,693.1 L642.0,693.5 L643.7,693.9 L645.4,694.2 L647.1,694.6 L648.7,694.9 L650.4,695.2 L652.1,695.6 L653.8,695.8 L655.5,696.1 L657.2,696.4 L658.9,696.7 L660.5,696.9 L662.2,697.1 L663.9,697.4 L665.6,697.6 L667.3,697.8 L669.0,698.0 L670.7,698.2 L672.4,698.3 L674.0,698.5 L675.7,698.7 L677.4,698.8 L679.1,699.0 L680.8,699.1 L682.5,699.2 L684.2,699.4 L685.8,699.5 L687.5,699.6" fill="none" stroke="#808080" stroke-width="5.2" stroke-linejoin="round"/>
<path d="M289.6,230.3 L289.8,229.8 L290.0,229.1 L290.2,228.4 L290.5,227.5 L290.8,226.6 L291.1,225.6 L291.4,224.5 L291.8,223.5 L292.1,222.3 L292.5,221.2 L292.8,220.1 L293.2,219.0 L293.5,217.9 L293.9,216.9 L294.2,215.9 L294.5,215.0 L294.8,214.1 L295.1,213.2 L295.3,212.4 L295.6,211.5 L295.9,210.7 L296.2,209.8 L296.5,209.0 L296.8,208.2 L297.0,207.4 L297.3,206.6 L297.6,205.8 L297.9,205.0 L298.1,204.3 L298.4,203.5 L298.7,202.8 L298.9,202.1 L299.2,201.4 L299.4,200.7 L299.7,200.1 L299.9,199.5 L300.1,199.0 L300.3,198.4 L300.5,197.9 L300.7,197.3 L300.9,196.8 L301.2,196.2 L301.4,195.7 L301.6,195.1 L301.9,194.4 L302.2,193.8 L302.5,193.0 L302.9,192.3 L303.2,191.4 L303.6,190.5 L304.0,189.6 L304.4,188.7 L304.8,187.8 L305.2,186.8 L305.7,185.8 L306.1,184.8 L306.6,183.8 L307.1,182.7 L307.6,181.7 L308.1,180.7 L308.6,179.6 L309.1,178.6 L309.7,177.5 L310.2,176.5 L310.8,175.5 L311.4,174.4 L312.1,173.3 L312.8,172.1 L313.5,170.9 L314.3,169.8 L315.0,168.6 L315.8,167.4 L316.6,166.2 L317.3,165.0 L318.1,163.9 L318.8,162.7 L319.5,161.6 L320.2,160.6 L320.8,159.6 L321.4,158.6 L321.9,157.7 L322.4,156.8 L322.9,156.0 L323.3,155.3 L323.7,154.6 L324.0,153.9 L324.4,153.2 L324.7,152.6 L325.0,152.0 L325.3,151.4 L325.6,150.9 L326.0,150.3 L326.3,149.7 L326.7,149.1 L327.1,148.4 L327.6,147.7 L328.1,147.0 L328.6,146.3 L329.1,145.5 L329.6,144.8 L330.2,144.0 L330.7,143.2 L331.3,142.5 L331.9,141.7 L332.5,140.9 L333.1,140.1 L333.8,139.3 L334.5,138.5 L335.1,137.6 L335.8,136.8 L336.6,135.9 L337.3,135.0 L338.2,134.1 L339.0,133.1 L340.0,132.1 L340.9,131.1 L341.9,130.0 L342.9,128.9 L343.9,127.8 L345.0,126.8 L346.0,125.7 L347.0,124.7 L348.0,123.7 L349.0,122.7 L349.9,121.9 L350.8,121.1 L351.6,120.4 L352.3,119.8 L353.0,119.2 L353.7,118.8 L354.3,118.4 L354.9,118.0 L355.4,117.7 L356.0,117.5 L356.5,117.3 L357.0,117.1 L357.5,116.9 L358.0,116.7 L358.5,116.6 L359.0,116.4 L359.6,116.2 L360.1,116.1 L360.7,115.9 L361.3,115.7 L361.8,115.6 L362.2,115.4 L362.6,115.3 L362.9,115.3 L363.2,115.2 L363.5,115.1 L363.7,115.1 L363.9,115.1 L364.1,115.1 L364.4,115.1 L364.6,115.1 L365.0,115.1 L365.3,115.1 L365.7,115.1 L366.2,115.1 L366.8,115.2 L367.4,115.2 L368.1,115.2 L368.9,115.3 L369.6,115.3 L370.4,115.4 L371.2,115.4 L372.0,115.5 L372.8,115.6 L373.6,115.7 L374.4,115.8 L375.2,115.9 L375.9,116.0 L376.7,116.2 L377.3,116.4 L377.9,116.5 L378.5,116.7 L379.0,117.0 L379.6,117.2 L380.1,117.5 L380.7,117.8 L381.2,118.1 L381.7,118.4 L382.3,118.7 L382.8,119.1 L383.4,119.5 L383.9,119.9 L384.5,120.4 L385.1,120.8 L385.7,121.3 L386.3,121.8 L386.9,122.4 L387.5,123.0 L388.2,123.5 L388.8,124.1 L389.4,124.7 L390.1,125.4 L390.7,126.0 L391.3,126.7 L391.9,127.4 L392.6,128.2 L393.2,128.9 L393.8,129.7 L394.4,130.5 L395.0,131.3 L395.6,132.2 L396.1,133.0 L396.7,133.9 L397.3,134.7 L397.9,135.6 L398.4,136.5 L399.0,137.5 L399.5,138.4 L400.1,139.4 L400.6,140.4 L401.1,141.5 L401.7,142.5 L402.2,143.6 L402.8,144.6 L403.3,145.7 L403.9,146.9 L404.4,148.0 L405.0,149.1 L405.6,150.3 L406.1,151.4 L406.7,152.6 L407.3,153.8 L407.9,155.0 L408.5,156.2 L409.1,157.4 L409.7,158.7 L410.3,159.9 L410.9,161.2 L411.5,162.4 L412.1,163.7 L412.6,165.0 L413.2,166.3 L413.8,167.5 L414.4,168.8 L414.9,170.0 L415.5,171.3 L416.0,172.5 L416.5,173.8 L417.1,175.0 L417.6,176.3 L418.1,177.6 L418.6,178.9 L419.2,180.1 L419.7,181.4 L420.2,182.7 L420.7,184.0 L421.2,185.2 L421.7,186.4 L422.1,187.7 L422.6,188.9 L423.1,190.0 L423.6,191.2 L424.0,192.3 L424.4,193.4 L424.9,194.4 L425.3,195.5 L425.7,196.5 L426.1,197.5 L426.5,198.5 L426.9,199.5 L427.3,200.5 L427.7,201.5 L428.0,202.5 L428.4,203.5 L428.9,204.4 L429.3,205.4 L429.7,206.3 L430.1,207.3 L430.6,208.3 L431.0,209.2 L431.5,210.1 L431.9,211.0 L432.4,211.9 L432.8,212.8 L433.3,213.7 L433.7,214.5 L434.2,215.4 L434.6,216.2 L435.1,217.1 L435.5,217.9 L435.9,218.7 L436.3,219.6 L436.7,220.4 L437.1,221.3 L437.5,222.2 L437.9,223.1 L438.3,224.0 L438.6,224.9 L439.0,225.8 L439.4,226.7 L439.7,227.6 L440.1,228.6 L440.5,229.5 L440.8,230.5 L441.2,231.4 L441.6,232.4 L441.9,233.3 L442.3,234.3 L442.7,235.2 L443.1,236.2 L443.5,237.1 L443.8,238.0 L444.2,238.9 L444.6,239.7 L444.9,240.5 L445.3,241.3 L445.6,242.1 L446.0,242.9 L446.4,243.8 L446.7,244.7 L447.1,245.6 L447.5,246.5 L448.0,247.6 L448.4,248.7 L448.9,249.9 L449.4,251.1 L449.9,252.5 L450.4,254.0 L451.0,255.5 L451.6,257.1 L452.2,258.8 L452.8,260.6 L453.4,262.4 L454.1,264.2 L454.7,266.1 L455.4,268.0 L456.1,269.9 L456.8,271.8 L457.5,273.7 L458.2,275.5 L458.9,277.4 L459.6,279.1 L460.3,280.9 L461.0,282.7 L461.7,284.5 L462.5,286.4 L463.2,288.2 L464.0,290.0 L464.8,291.8 L465.5,293.7 L466.3,295.5 L467.1,297.3 L467.8,299.0 L468.6,300.8 L469.4,302.5 L470.1,304.1 L470.8,305.7 L471.6,307.3 L472.3,308.8 L473.0,310.3 L473.7,311.8 L474.3,313.2 L475.0,314.6 L475.7,315.9 L476.4,317.3 L477.0,318.6 L477.7,319.8 L478.4,321.1 L479.0,322.3 L479.7,323.6 L480.3,324.8 L480.9,326.0 L481.6,327.2 L482.2,328.5 L482.9,329.7 L483.5,330.9 L484.2,332.1 L484.9,333.3 L485.5,334.5 L486.2,335.7 L486.8,336.8 L487.5,338.0 L488.1,339.1 L488.7,340.2 L489.4,341.3 L490.0,342.4 L490.6,343.4 L491.1,344.5 L491.7,345.5 L492.3,346.5 L492.8,347.5 L493.3,348.4 L493.8,349.3 L494.2,350.2 L494.7,351.0 L495.1,351.9 L495.6,352.7 L496.0,353.5 L496.4,354.3 L496.9,355.2 L497.3,356.0 L497.8,356.9 L498.2,357.7 L498.7,358.6 L499.2,359.6 L499.8,360.5 L500.3,361.5 L500.9,362.5 L501.5,363.6 L502.1,364.6 L502.8,365.7 L503.4,366.8 L504.0,367.8 L504.7,368.9 L505.3,370.0 L506.0,371.1 L506.6,372.2 L507.3,373.3 L507.9,374.4 L508.6,375.5 L509.2,376.5 L509.8,377.6 L510.5,378.6 L511.1,379.7 L511.7,380.7 L512.3,381.8 L513.0,382.8 L513.6,383.9 L514.2,384.9 L514.8,385.9 L515.5,387.0 L516.1,388.0 L516.7,389.0 L517.3,390.0 L518.0,391.1 L518.6,392.1 L519.2,393.1 L519.9,394.1 L520.5,395.1 L521.1,396.2 L521.7,397.2 L522.4,398.2 L523.0,399.2 L523.6,400.2 L524.3,401.2 L524.9,402.2 L525.5,403.1 L526.1,404.1 L526.7,405.1 L527.4,406.1 L528.0,407.1 L528.6,408.1 L529.2,409.1 L529.9,410.1 L530.5,411.1 L531.1,412.1 L531.7,413.2 L532.3,414.2 L533.0,415.2 L533.6,416.2 L534.2,417.3 L534.8,418.3 L535.4,419.3 L536.1,420.4 L536.7,421.4 L537.3,422.4 L537.9,423.5 L538.6,424.5 L539.2,425.6 L539.9,426.6 L540.5,427.6 L541.1,428.6 L541.7,429.6 L542.3,430.6 L542.9,431.6 L543.5,432.6 L544.1,433.7 L544.7,434.7 L545.3,435.7 L545.9,436.8 L546.6,437.9 L547.3,439.0 L548.0,440.1 L548.8,441.3 L549.6,442.5 L550.5,443.7 L551.4,445.0 L552.3,446.4 L553.3,447.8 L554.3,449.2 L555.3,450.6 L556.4,452.1 L557.5,453.6 L558.6,455.1 L559.7,456.6 L560.8,458.1 L562.0,459.6 L563.1,461.1 L564.3,462.6 L565.4,464.0 L566.5,465.5 L567.6,466.9 L568.7,468.3 L569.8,469.6 L570.9,471.0 L572.1,472.4 L573.2,473.7 L574.3,475.1 L575.5,476.4 L576.6,477.7 L577.7,479.0 L578.8,480.3 L579.9,481.6 L581.0,482.9 L582.1,484.1 L583.1,485.4 L584.2,486.6 L585.2,487.9 L586.2,489.1 L587.2,490.4 L588.2,491.6 L589.2,492.8 L590.1,494.1 L591.1,495.3 L592.0,496.5 L593.0,497.7 L593.9,498.9 L594.8,500.1 L595.8,501.2 L596.7,502.4 L597.6,503.5 L598.5,504.7 L599.3,505.8 L600.2,506.8 L601.1,507.9 L601.9,508.9 L602.7,509.9 L603.4,510.9 L604.2,511.8 L605.0,512.8 L605.7,513.7 L606.5,514.6 L607.2,515.5 L608.0,516.4 L608.7,517.3 L609.5,518.2 L610.3,519.2 L611.1,520.1 L611.9,521.0 L612.8,522.0 L613.7,523.0 L614.6,523.9 L615.5,524.9 L616.4,525.9 L617.4,526.9 L618.3,527.9 L619.3,528.9 L620.2,529.9 L621.2,530.8 L622.1,531.8 L623.1,532.8 L624.1,533.8 L625.0,534.8 L626.0,535.7 L626.9,536.7 L627.9,537.6 L628.9,538.6 L629.8,539.5 L630.8,540.5 L631.8,541.4 L632.8,542.4 L633.8,543.3 L634.8,544.2 L635.8,545.1 L636.7,546.1 L637.7,547.0 L638.6,547.8 L639.5,548.7 L640.4,549.6 L641.2,550.4 L642.0,551.3 L642.8,552.1 L647.2,547.9 L646.4,547.1 L645.5,546.2 L644.6,545.3 L643.7,544.4 L642.8,543.5 L641.8,542.6 L640.8,541.7 L639.9,540.8 L638.9,539.9 L637.9,538.9 L636.9,538.0 L635.9,537.1 L634.9,536.2 L634.0,535.2 L633.0,534.3 L632.1,533.4 L631.2,532.5 L630.2,531.5 L629.3,530.5 L628.3,529.6 L627.3,528.6 L626.4,527.7 L625.4,526.7 L624.5,525.7 L623.5,524.7 L622.6,523.8 L621.6,522.8 L620.7,521.8 L619.8,520.9 L618.9,519.9 L618.1,519.0 L617.2,518.0 L616.4,517.1 L615.6,516.2 L614.8,515.3 L614.0,514.4 L613.2,513.5 L612.5,512.6 L611.8,511.7 L611.0,510.8 L610.3,509.9 L609.6,509.0 L608.8,508.1 L608.0,507.2 L607.3,506.2 L606.5,505.2 L605.6,504.2 L604.8,503.2 L603.9,502.1 L603.1,501.0 L602.2,499.9 L601.3,498.8 L600.4,497.6 L599.5,496.4 L598.6,495.3 L597.6,494.1 L596.7,492.8 L595.8,491.6 L594.8,490.4 L593.8,489.1 L592.8,487.9 L591.8,486.6 L590.8,485.4 L589.8,484.1 L588.8,482.8 L587.7,481.6 L586.7,480.3 L585.6,479.0 L584.5,477.7 L583.4,476.4 L582.3,475.1 L581.2,473.8 L580.1,472.5 L578.9,471.2 L577.8,469.8 L576.7,468.5 L575.6,467.2 L574.5,465.8 L573.5,464.5 L572.4,463.1 L571.3,461.7 L570.2,460.3 L569.1,458.9 L568.0,457.4 L566.9,455.9 L565.8,454.4 L564.6,452.9 L563.5,451.4 L562.4,449.9 L561.4,448.5 L560.3,447.0 L559.3,445.6 L558.3,444.2 L557.3,442.8 L556.4,441.5 L555.5,440.3 L554.7,439.0 L553.9,437.9 L553.2,436.8 L552.5,435.7 L551.8,434.6 L551.2,433.5 L550.6,432.5 L550.0,431.5 L549.4,430.5 L548.8,429.5 L548.2,428.5 L547.6,427.5 L547.0,426.5 L546.4,425.5 L545.8,424.4 L545.1,423.4 L544.5,422.3 L543.9,421.3 L543.2,420.3 L542.6,419.2 L542.0,418.2 L541.4,417.2 L540.7,416.1 L540.1,415.1 L539.5,414.1 L538.9,413.0 L538.3,412.0 L537.6,411.0 L537.0,409.9 L536.4,408.9 L535.8,407.9 L535.1,406.9 L534.5,405.9 L533.9,404.8 L533.3,403.8 L532.6,402.8 L532.0,401.8 L531.4,400.8 L530.7,399.8 L530.1,398.8 L529.5,397.9 L528.9,396.9 L528.3,395.9 L527.6,394.9 L527.0,393.9 L526.4,392.9 L525.8,391.9 L525.1,390.9 L524.5,389.9 L523.9,388.8 L523.3,387.8 L522.7,386.8 L522.0,385.8 L521.4,384.8 L520.8,383.7 L520.2,382.7 L519.5,381.7 L518.9,380.6 L518.3,379.6 L517.7,378.6 L517.0,377.5 L516.4,376.5 L515.8,375.4 L515.2,374.4 L514.5,373.4 L513.9,372.3 L513.3,371.2 L512.6,370.1 L512.0,369.0 L511.3,367.9 L510.7,366.8 L510.0,365.8 L509.4,364.7 L508.8,363.6 L508.1,362.5 L507.5,361.5 L506.9,360.5 L506.3,359.4 L505.8,358.4 L505.2,357.5 L504.7,356.5 L504.2,355.6 L503.7,354.8 L503.3,353.9 L502.8,353.1 L502.4,352.2 L501.9,351.4 L501.5,350.6 L501.1,349.8 L500.6,349.0 L500.2,348.1 L499.8,347.3 L499.3,346.4 L498.8,345.4 L498.3,344.5 L497.7,343.5 L497.2,342.5 L496.6,341.4 L496.0,340.4 L495.4,339.3 L494.8,338.2 L494.2,337.1 L493.5,336.0 L492.9,334.9 L492.3,333.8 L491.6,332.6 L491.0,331.5 L490.3,330.3 L489.7,329.1 L489.0,327.9 L488.4,326.7 L487.8,325.5 L487.1,324.3 L486.5,323.1 L485.8,321.9 L485.2,320.7 L484.5,319.4 L483.9,318.2 L483.3,317.0 L482.6,315.7 L482.0,314.4 L481.3,313.1 L480.6,311.8 L480.0,310.4 L479.3,309.1 L478.6,307.6 L477.9,306.2 L477.2,304.7 L476.5,303.1 L475.8,301.6 L475.1,299.9 L474.3,298.2 L473.6,296.5 L472.8,294.8 L472.1,293.0 L471.3,291.2 L470.6,289.4 L469.8,287.6 L469.0,285.8 L468.3,284.0 L467.6,282.2 L466.8,280.4 L466.1,278.6 L465.4,276.9 L464.7,275.1 L464.1,273.3 L463.4,271.5 L462.7,269.6 L462.0,267.7 L461.3,265.9 L460.7,264.0 L460.0,262.1 L459.4,260.3 L458.7,258.5 L458.1,256.7 L457.5,255.0 L456.9,253.4 L456.3,251.8 L455.8,250.3 L455.2,248.9 L454.7,247.6 L454.2,246.3 L453.8,245.2 L453.4,244.1 L452.9,243.1 L452.5,242.2 L452.1,241.3 L451.8,240.4 L451.4,239.6 L451.1,238.8 L450.7,238.0 L450.4,237.2 L450.0,236.4 L449.6,235.6 L449.3,234.7 L448.9,233.8 L448.5,232.9 L448.2,232.0 L447.8,231.0 L447.4,230.1 L447.1,229.1 L446.7,228.2 L446.4,227.3 L446.0,226.3 L445.6,225.3 L445.3,224.4 L444.9,223.4 L444.5,222.5 L444.1,221.5 L443.7,220.6 L443.3,219.6 L442.9,218.7 L442.5,217.8 L442.0,216.8 L441.6,215.9 L441.1,215.0 L440.7,214.2 L440.2,213.3 L439.8,212.4 L439.3,211.6 L438.9,210.7 L438.4,209.9 L438.0,209.0 L437.6,208.2 L437.1,207.3 L436.7,206.5 L436.3,205.6 L435.9,204.7 L435.5,203.8 L435.1,202.9 L434.7,201.9 L434.3,201.0 L433.9,200.1 L433.5,199.1 L433.2,198.2 L432.8,197.2 L432.4,196.2 L432.0,195.2 L431.6,194.2 L431.2,193.2 L430.8,192.1 L430.3,191.0 L429.9,189.9 L429.4,188.8 L429.0,187.7 L428.5,186.5 L428.1,185.3 L427.6,184.1 L427.1,182.9 L426.6,181.6 L426.1,180.4 L425.6,179.1 L425.1,177.8 L424.6,176.5 L424.0,175.2 L423.5,173.9 L423.0,172.6 L422.4,171.3 L421.9,170.0 L421.3,168.7 L420.8,167.5 L420.2,166.2 L419.6,164.9 L419.0,163.6 L418.4,162.3 L417.8,161.0 L417.2,159.7 L416.6,158.4 L416.0,157.2 L415.4,155.9 L414.8,154.6 L414.2,153.4 L413.6,152.2 L413.0,150.9 L412.4,149.7 L411.9,148.6 L411.3,147.4 L410.7,146.3 L410.2,145.1 L409.6,144.0 L409.1,142.9 L408.5,141.8 L407.9,140.7 L407.4,139.6 L406.8,138.5 L406.3,137.4 L405.7,136.3 L405.1,135.3 L404.5,134.3 L403.9,133.2 L403.3,132.2 L402.7,131.3 L402.1,130.3 L401.5,129.4 L400.8,128.5 L400.2,127.6 L399.5,126.7 L398.9,125.8 L398.2,125.0 L397.6,124.1 L396.9,123.3 L396.3,122.5 L395.6,121.7 L395.0,121.0 L394.4,120.2 L393.7,119.5 L393.1,118.7 L392.5,118.0 L391.9,117.4 L391.3,116.7 L390.7,116.1 L390.1,115.5 L389.4,114.9 L388.8,114.3 L388.2,113.7 L387.5,113.1 L386.9,112.5 L386.2,112.0 L385.5,111.5 L384.8,111.0 L384.0,110.5 L383.2,110.0 L382.4,109.6 L381.5,109.3 L380.6,108.9 L379.6,108.6 L378.7,108.3 L377.7,108.1 L376.7,107.8 L375.7,107.7 L374.8,107.5 L373.8,107.4 L372.9,107.3 L371.9,107.2 L371.0,107.1 L370.2,107.0 L369.4,106.9 L368.6,106.9 L367.9,106.8 L367.2,106.8 L366.6,106.8 L366.0,106.8 L365.4,106.8 L364.8,106.8 L364.3,106.8 L363.8,106.9 L363.2,107.0 L362.7,107.0 L362.2,107.1 L361.7,107.3 L361.2,107.4 L360.7,107.5 L360.2,107.7 L359.7,107.9 L359.2,108.1 L358.7,108.3 L358.2,108.4 L357.7,108.6 L357.2,108.8 L356.6,109.0 L356.0,109.2 L355.4,109.5 L354.7,109.8 L354.0,110.1 L353.3,110.4 L352.5,110.8 L351.8,111.2 L351.0,111.7 L350.2,112.3 L349.4,112.9 L348.5,113.5 L347.7,114.2 L346.8,115.0 L345.9,115.9 L345.0,116.8 L344.0,117.8 L343.0,118.9 L342.0,120.0 L341.0,121.1 L340.0,122.2 L339.0,123.4 L338.0,124.6 L337.1,125.7 L336.1,126.8 L335.2,127.9 L334.3,129.0 L333.5,130.0 L332.7,131.0 L331.9,131.9 L331.1,132.8 L330.4,133.7 L329.7,134.6 L329.0,135.4 L328.3,136.3 L327.6,137.1 L327.0,137.9 L326.4,138.8 L325.8,139.6 L325.2,140.4 L324.6,141.2 L324.0,141.9 L323.5,142.7 L323.0,143.5 L322.4,144.3 L321.9,145.0 L321.4,145.8 L321.0,146.5 L320.6,147.2 L320.2,147.8 L319.9,148.5 L319.5,149.1 L319.2,149.8 L318.9,150.4 L318.6,151.0 L318.2,151.7 L317.9,152.3 L317.5,153.0 L317.1,153.8 L316.6,154.6 L316.1,155.4 L315.5,156.3 L314.9,157.3 L314.3,158.3 L313.6,159.4 L312.9,160.5 L312.1,161.6 L311.4,162.8 L310.6,164.0 L309.8,165.2 L309.0,166.4 L308.3,167.6 L307.5,168.8 L306.8,170.0 L306.1,171.2 L305.4,172.4 L304.8,173.5 L304.2,174.6 L303.6,175.7 L303.0,176.8 L302.5,177.9 L301.9,179.0 L301.4,180.1 L300.9,181.2 L300.5,182.2 L300.0,183.3 L299.5,184.3 L299.1,185.3 L298.7,186.2 L298.3,187.2 L297.9,188.1 L297.5,188.9 L297.1,189.7 L296.8,190.5 L296.5,191.3 L296.2,192.0 L295.9,192.6 L295.6,193.3 L295.4,193.9 L295.1,194.5 L294.9,195.0 L294.7,195.6 L294.5,196.2 L294.2,196.7 L294.0,197.3 L293.8,197.9 L293.6,198.6 L293.3,199.2 L293.1,199.9 L292.8,200.7 L292.5,201.4 L292.2,202.2 L292.0,202.9 L291.7,203.7 L291.4,204.5 L291.1,205.3 L290.8,206.1 L290.6,207.0 L290.3,207.8 L290.0,208.7 L289.7,209.5 L289.4,210.4 L289.1,211.2 L288.8,212.1 L288.5,213.0 L288.2,213.9 L287.9,214.9 L287.6,216.0 L287.2,217.1 L286.8,218.2 L286.5,219.3 L286.1,220.5 L285.8,221.6 L285.4,222.7 L285.1,223.7 L284.8,224.7 L284.5,225.6 L284.2,226.5 L284.0,227.3 L283.8,227.9 L283.6,228.5 Z" fill="#000"/>
<path d="M282.6,225.2h8.0v8.5h-8.0zM284.1,220.4h8.0v8.5h-8.0zM285.6,215.6h8.0v8.5h-8.0zM287.1,210.9h8.0v8.5h-8.0zM288.7,206.1h8.0v8.5h-8.0zM290.3,201.4h8.0v8.5h-8.0zM292.0,196.7h8.0v8.5h-8.0zM293.8,192.0h8.0v8.5h-8.0zM295.7,187.4h8.0v8.5h-8.0zM297.7,182.8h8.0v8.5h-8.0zM299.8,178.2h8.0v8.5h-8.0zM301.9,173.7h8.0v8.5h-8.0zM304.3,169.3h8.0v8.5h-8.0zM306.9,165.1h8.0v8.5h-8.0zM309.6,160.8h8.0v8.5h-8.0zM312.3,156.6h8.0v8.5h-8.0zM315.0,152.4h8.0v8.5h-8.0zM317.4,148.0h8.0v8.5h-8.0zM319.8,143.6h8.0v8.5h-8.0zM322.6,139.5h8.0v8.5h-8.0zM325.5,135.5h8.0v8.5h-8.0zM328.6,131.1h8.0v9.5h-8.0zM331.9,127.2h8.0v9.5h-8.0zM335.2,123.5h8.0v9.5h-8.0zM338.5,119.8h8.0v9.5h-8.0zM341.9,115.6h8.0v10.5h-8.0zM345.5,112.2h8.0v10.5h-8.0zM349.6,109.2h8.0v10.5h-8.0zM354.2,106.6h8.0v12.0h-8.0zM359.0,105.1h8.0v12.0h-8.0zM364.0,105.0h8.0v12.0h-8.0zM368.9,105.4h8.0v12.0h-8.0zM373.9,106.3h8.0v12.0h-8.0zM378.5,108.2h8.0v12.0h-8.0zM382.2,112.2h8.5v10.0h-8.5zM385.9,115.6h8.5v10.0h-8.5zM389.3,119.3h8.5v10.0h-8.5zM392.4,123.2h8.5v10.0h-8.5zM394.8,128.0h9.5v8.5h-9.5zM397.4,132.3h9.5v8.5h-9.5zM399.7,136.7h9.5v8.5h-9.5zM402.0,141.2h9.5v8.5h-9.5zM404.2,145.6h9.5v8.5h-9.5zM406.4,150.1h9.5v8.5h-9.5zM408.6,154.6h9.5v8.5h-9.5zM410.7,159.2h9.5v8.5h-9.5zM412.8,163.7h9.5v8.5h-9.5zM414.7,168.3h9.5v8.5h-9.5zM416.7,172.9h9.5v8.5h-9.5zM418.5,177.6h9.5v8.5h-9.5zM420.3,182.2h9.5v8.5h-9.5zM422.2,186.9h9.5v8.5h-9.5zM424.0,191.5h9.5v8.5h-9.5zM425.9,196.2h9.5v8.5h-9.5zM427.8,200.8h9.5v8.5h-9.5zM430.0,205.3h9.5v8.5h-9.5zM432.3,209.7h9.5v8.5h-9.5zM434.5,214.2h9.5v8.5h-9.5zM436.5,218.8h9.5v8.5h-9.5zM438.4,223.4h9.5v8.5h-9.5zM440.2,228.1h9.5v8.5h-9.5zM442.1,232.7h9.5v8.5h-9.5zM444.1,237.3h9.5v8.5h-9.5zM446.0,241.9h9.5v8.5h-9.5zM447.9,246.5h9.5v8.5h-9.5zM449.6,251.2h9.5v8.5h-9.5zM451.2,255.9h9.5v8.5h-9.5zM452.9,260.7h9.5v8.5h-9.5zM454.6,265.4h9.5v8.5h-9.5zM456.3,270.1h9.5v8.5h-9.5zM458.1,274.7h9.5v8.5h-9.5zM460.0,279.4h9.5v8.5h-9.5zM461.9,284.0h9.5v8.5h-9.5zM463.8,288.6h9.5v8.5h-9.5zM465.8,293.2h9.5v8.5h-9.5zM467.8,297.8h9.5v8.5h-9.5zM469.9,302.3h9.5v8.5h-9.5zM472.1,306.8h9.5v8.5h-9.5zM474.3,311.3h9.5v8.5h-9.5zM476.6,315.8h9.5v8.5h-9.5zM478.9,320.2h9.5v8.5h-9.5zM481.2,324.6h9.5v8.5h-9.5zM483.6,329.0h9.5v8.5h-9.5zM486.1,333.3h9.5v8.5h-9.5zM488.6,337.7h9.5v8.5h-9.5zM491.0,342.1h9.5v8.5h-9.5zM493.3,346.5h9.5v8.5h-9.5zM495.6,350.9h9.5v8.5h-9.5zM498.1,355.3h9.5v8.5h-9.5zM500.6,359.6h9.5v8.5h-9.5zM503.1,363.9h9.5v8.5h-9.5zM505.6,368.2h9.5v8.5h-9.5zM508.2,372.5h9.5v8.5h-9.5zM510.8,376.8h9.5v8.5h-9.5zM513.4,381.1h9.5v8.5h-9.5zM516.0,385.4h9.5v8.5h-9.5zM518.6,389.6h9.5v8.5h-9.5zM521.2,393.9h9.5v8.5h-9.5zM523.9,398.1h9.5v8.5h-9.5zM526.6,402.3h9.5v8.5h-9.5zM529.2,406.6h9.5v8.5h-9.5zM531.8,410.9h9.5v8.5h-9.5zM534.3,415.1h9.5v8.5h-9.5zM536.9,419.4h9.5v8.5h-9.5zM539.5,423.7h9.5v8.5h-9.5zM542.1,428.0h9.5v8.5h-9.5zM544.7,432.3h9.5v8.5h-9.5zM547.4,436.5h9.5v8.5h-9.5zM550.2,440.6h9.5v8.5h-9.5zM553.1,444.7h9.5v8.5h-9.5zM555.8,448.4h10.0v9.0h-10.0zM558.8,452.4h10.0v9.0h-10.0zM561.8,456.4h10.0v9.0h-10.0zM564.9,460.4h10.0v9.0h-10.0zM568.0,464.3h10.0v9.0h-10.0zM571.2,468.1h10.0v9.0h-10.0zM574.5,471.9h10.0v9.0h-10.0zM577.7,475.7h10.0v9.0h-10.0zM580.9,479.6h10.0v9.0h-10.0zM584.1,483.5h10.0v9.0h-10.0zM587.2,487.4h10.0v9.0h-10.0zM590.3,491.3h10.0v9.0h-10.0zM593.3,495.3h10.0v9.0h-10.0zM596.4,499.2h10.0v9.0h-10.0zM599.6,503.1h10.0v9.0h-10.0zM602.7,507.0h10.0v9.0h-10.0zM605.9,510.8h10.0v9.0h-10.0zM609.2,514.6h10.0v9.0h-10.0zM612.6,518.3h10.0v9.0h-10.0zM616.0,521.9h10.0v9.0h-10.0zM619.5,525.5h10.0v9.0h-10.0zM623.0,529.0h10.0v9.0h-10.0zM626.6,532.5h10.0v9.0h-10.0zM630.2,536.0h10.0v9.0h-10.0zM633.8,539.4h10.0v9.0h-10.0zM635.7,541.4h10.0v8.5h-10.0zM639.9,545.7h10.0v8.5h-10.0zM643.9,550.2h10.0v8.5h-10.0zM647.6,554.9h10.0v8.5h-10.0zM651.5,559.4h10.0v8.5h-10.0zM655.7,563.7h10.0v8.5h-10.0zM659.9,568.0h10.0v8.5h-10.0zM664.0,572.4h10.0v8.5h-10.0zM667.9,576.9h10.0v8.5h-10.0zM671.9,581.5h10.0v8.5h-10.0zM676.0,585.8h10.0v8.5h-10.0zM680.4,589.9h10.0v8.5h-10.0zM684.9,593.9h10.0v8.5h-10.0zM689.5,597.8h10.0v8.5h-10.0zM694.0,601.7h10.0v8.5h-10.0zM698.6,605.5h10.0v8.5h-10.0zM703.3,609.3h10.0v8.5h-10.0zM707.9,613.1h10.0v8.5h-10.0zM712.5,616.9h10.0v8.5h-10.0zM717.2,620.7h10.0v8.5h-10.0zM722.1,624.2h10.0v8.5h-10.0zM727.0,627.6h10.0v8.5h-10.0zM732.0,630.9h10.0v8.5h-10.0zM737.1,634.1h10.0v8.5h-10.0zM742.3,637.2h10.0v8.5h-10.0zM747.4,640.3h10.0v8.5h-10.0zM752.6,643.3h10.0v8.5h-10.0zM757.8,646.3h10.0v8.5h-10.0zM762.9,649.3h10.0v8.5h-10.0zM768.2,652.3h10.0v8.5h-10.0zM773.5,655.1h10.0v8.5h-10.0zM778.8,657.8h10.0v8.5h-10.0zM784.2,660.5h10.0v8.5h-10.0zM789.6,663.1h10.0v8.5h-10.0zM795.0,665.6h10.0v8.5h-10.0zM800.5,668.1h10.0v8.5h-10.0zM806.0,670.6h10.0v8.5h-10.0zM811.5,672.9h10.0v8.5h-10.0zM817.1,675.0h10.0v8.5h-10.0zM822.8,677.1h10.0v8.5h-10.0zM828.4,679.1h10.0v8.5h-10.0zM834.0,681.4h10.0v8.5h-10.0zM839.4,683.8h10.0v8.5h-10.0zM845.1,685.8h10.0v8.5h-10.0zM850.9,687.4h10.0v8.5h-10.0zM856.7,688.8h10.0v8.5h-10.0zM862.6,690.2h10.0v8.5h-10.0zM868.4,691.4h10.0v8.5h-10.0zM874.3,692.5h10.0v8.5h-10.0zM880.3,693.3h10.0v8.5h-10.0zM886.2,694.0h10.0v8.5h-10.0z" fill="#000"/>
<path d="M640.7,547.2 L641.6,548.1 L642.5,549.0 L643.4,549.8 L644.2,550.7 L645.0,551.5 L645.8,552.3 L646.5,553.1 L647.1,553.9 L647.8,554.7 L648.4,555.4 L649.0,556.1 L649.6,556.9 L650.2,557.6 L650.7,558.3 L651.3,559.0 L651.9,559.8 L652.4,560.5 L653.0,561.2 L653.7,562.0 L654.3,562.7 L655.0,563.5 L655.7,564.3 L656.4,565.1 L657.2,565.9 L657.9,566.7 L658.7,567.5 L659.5,568.3 L660.3,569.1 L661.1,569.9 L661.9,570.7 L662.7,571.5 L663.5,572.3 L664.3,573.2 L665.1,574.0 L665.9,574.8 L666.7,575.7 L667.5,576.5 L668.3,577.3 L669.0,578.2 L669.8,579.1 L670.6,579.9 L671.3,580.8 L672.1,581.7 L672.8,582.6 L673.6,583.5 L674.4,584.4 L675.1,585.2 L675.9,586.1 L676.7,587.0 L677.5,587.9 L678.3,588.8 L679.2,589.6 L680.0,590.5 L680.9,591.4 L681.8,592.2 L682.7,593.1 L683.6,593.9 L684.5,594.8 L685.4,595.6 L686.4,596.5 L687.3,597.3 L688.3,598.2 L689.3,599.0 L690.2,599.9 L691.2,600.7 L692.2,601.5 L693.1,602.4 L694.1,603.2 L695.0,604.0 L695.9,604.8 L696.9,605.6 L697.8,606.4 L698.8,607.2 L699.7,608.0 L700.6,608.8 L701.6,609.6 L702.5,610.3 L703.4,611.1 L704.4,611.9 L705.3,612.7 L706.2,613.4 L707.2,614.2 L708.1,615.0 L709.1,615.7 L710.0,616.5 L710.9,617.3 L711.9,618.0 L712.8,618.8 L713.8,619.6 L714.7,620.4 L715.6,621.1 L716.6,621.9 L717.5,622.7 L718.4,623.4 L719.4,624.2 L720.3,624.9 L721.2,625.7 L722.2,626.4 L723.1,627.1 L724.1,627.8 L725.0,628.5 L725.9,629.2 L726.9,629.8 L727.8,630.5 L728.7,631.1 L729.6,631.8 L730.5,632.4 L731.4,633.0 L732.3,633.6 L733.3,634.2 L734.2,634.8 L735.1,635.4 L736.1,636.0 L737.0,636.6 L738.0,637.2 L739.0,637.9 L740.0,638.5 L741.0,639.1 L742.1,639.8 L743.1,640.4 L744.2,641.1 L745.3,641.8 L746.4,642.4 L747.5,643.1 L748.6,643.8 L749.7,644.4 L750.8,645.1 L751.9,645.7 L753.1,646.4 L754.2,647.1 L755.3,647.7 L756.4,648.4 L757.5,649.0 L758.6,649.6 L759.7,650.3 L760.7,650.9 L761.8,651.5 L762.9,652.2 L764.0,652.8 L765.0,653.4 L766.1,654.0 L767.2,654.7 L768.3,655.3 L769.3,655.9 L770.4,656.5 L771.6,657.1 L772.7,657.8 L773.8,658.4 L775.0,659.0 L776.2,659.6 L777.4,660.3 L778.6,660.9 L779.8,661.5 L781.1,662.2 L782.3,662.8 L783.6,663.4 L784.8,664.1 L786.1,664.7 L787.4,665.3 L788.7,665.9 L789.9,666.6 L791.2,667.2 L792.5,667.8 L793.7,668.4 L795.0,669.0 L796.2,669.6 L797.5,670.2 L798.8,670.8 L800.0,671.4 L801.2,671.9 L802.5,672.5 L803.8,673.1 L805.0,673.7 L806.2,674.2 L807.5,674.8 L808.8,675.3 L810.0,675.9 L811.2,676.4 L812.5,677.0 L813.8,677.5 L815.0,678.0 L816.3,678.5 L817.5,679.0 L818.8,679.5 L820.1,680.0 L821.4,680.5 L822.7,681.0 L824.0,681.5 L825.3,681.9 L826.6,682.4 L827.9,682.9 L829.1,683.3 L830.4,683.8 L831.6,684.2 L832.7,684.6 L833.9,685.1 L835.0,685.5 L836.1,685.9 L837.0,686.3 L838.0,686.7 L838.9,687.1 L839.7,687.5 L840.6,687.9 L841.4,688.2 L842.2,688.6 L843.0,689.0 L843.9,689.3 L844.7,689.7 L845.7,690.0 L846.6,690.4 L847.7,690.8 L848.8,691.1 L850.0,691.5 L851.3,691.9 L852.7,692.3 L854.2,692.7 L855.7,693.1 L857.3,693.5 L859.0,693.9 L860.6,694.3 L862.3,694.7 L864.0,695.1 L865.7,695.5 L867.4,695.9 L869.0,696.2 L870.6,696.6 L872.1,696.9 L873.6,697.2 L875.0,697.5 L876.4,697.8 L877.7,698.0 L879.1,698.2 L880.4,698.4 L881.7,698.6 L883.1,698.8 L884.3,699.0 L885.6,699.1 L886.7,699.3 L887.9,699.4 L888.9,699.5 L889.9,699.6 L890.8,699.7 L891.7,699.8 L892.4,699.9 L893.0,700.0" fill="none" stroke="#808080" stroke-width="1.3"/>
<rect x="147.50" y="302.00" width="8.00" height="10.00" fill="#000"/>
<rect x="153.00" y="315.00" width="9.00" height="11.50" fill="#000"/>
<rect x="160.00" y="328.00" width="9.50" height="8.50" fill="#000"/>
<rect x="169.50" y="329.50" width="8.50" height="10.00" fill="#000"/>
<rect x="176.25" y="315.00" width="13.25" height="10.75" fill="#000"/>
<rect x="187.50" y="290.75" width="11.25" height="12.50" fill="#000"/>
<rect x="194.00" y="256.90" width="11.60" height="11.00" fill="#000"/>
<rect x="203.40" y="211.90" width="11.50" height="8.70" fill="#000"/>
<rect x="212.50" y="160.50" width="8.75" height="13.25" fill="#000"/>
<rect x="219.50" y="124.50" width="11.00" height="8.50" fill="#000"/>
<rect x="228.75" y="108.75" width="8.75" height="8.75" fill="#000"/>
<rect x="235.00" y="120.00" width="13.75" height="10.75" fill="#000"/>
<rect x="247.00" y="149.50" width="10.90" height="8.25" fill="#000"/>
<rect x="253.10" y="176.25" width="11.65" height="11.00" fill="#000"/>
<rect x="262.50" y="191.90" width="11.25" height="10.60" fill="#000"/>
<rect x="269.40" y="199.40" width="11.20" height="12.50" fill="#000"/>
<rect x="278.75" y="203.75" width="11.25" height="10.00" fill="#000"/>
<rect x="144.50" y="77.20" width="6.50" height="625.80" fill="#000"/>
<rect x="984.90" y="77.20" width="6.30" height="625.80" fill="#000"/>
<rect x="146.50" y="77.20" width="842.70" height="2.60" fill="#000"/>
<rect x="144.50" y="700.30" width="543.00" height="2.70" fill="#000"/>
<rect x="687.50" y="700.30" width="212.50" height="2.70" fill="#808080"/>
<rect x="900.00" y="700.30" width="91.20" height="2.70" fill="#000"/>
<rect x="151.00" y="638.00" width="4.50" height="4.00" fill="#000"/>
<rect x="151.00" y="576.95" width="7.30" height="2.50" fill="#000"/>
<rect x="151.00" y="512.50" width="4.50" height="4.00" fill="#000"/>
<rect x="151.00" y="451.25" width="7.30" height="2.50" fill="#000"/>
<rect x="151.00" y="389.10" width="4.50" height="4.00" fill="#000"/>
<rect x="151.00" y="325.95" width="7.30" height="2.50" fill="#000"/>
<rect x="151.00" y="263.80" width="4.50" height="4.00" fill="#000"/>
<rect x="151.00" y="202.50" width="7.30" height="2.50" fill="#000"/>
<rect x="151.00" y="138.20" width="4.50" height="4.00" fill="#000"/>
<rect x="312.95" y="689.40" width="6.60" height="11.60" fill="#000"/>
<rect x="481.30" y="689.40" width="6.60" height="11.60" fill="#000"/>
<rect x="649.95" y="689.40" width="6.60" height="11.60" fill="#000"/>
<rect x="818.60" y="689.40" width="6.60" height="11.60" fill="#000"/>
<rect x="228.80" y="696.00" width="6.60" height="5.00" fill="#000"/>
<rect x="397.00" y="696.00" width="6.60" height="5.00" fill="#000"/>
<rect x="565.50" y="696.00" width="6.60" height="5.00" fill="#000"/>
<rect x="731.80" y="696.00" width="6.60" height="5.00" fill="#000"/>
<rect x="900.40" y="696.00" width="6.60" height="5.00" fill="#000"/>
</g>
<g shape-rendering="auto">
<path d="M87.42,685.00h11.05v2.04h-11.05zM83.00,687.04h17.68v2.04h-17.68zM83.00,689.09h6.63v2.04h-6.63zM94.05,689.09h6.63v2.04h-6.63zM83.00,691.13h6.63v2.04h-6.63zM94.05,691.13h6.63v2.04h-6.63zM83.00,693.18h6.63v2.04h-6.63zM94.05,693.18h6.63v2.04h-6.63zM83.00,695.23h6.63v2.04h-6.63zM94.05,695.23h6.63v2.04h-6.63zM83.00,697.27h6.63v2.04h-6.63zM94.05,697.27h6.63v2.04h-6.63zM83.00,699.32h6.63v2.04h-6.63zM94.05,699.32h6.63v2.04h-6.63zM83.00,701.36h6.63v2.04h-6.63zM94.05,701.36h6.63v2.04h-6.63zM83.00,703.40h6.63v2.04h-6.63zM94.05,703.40h6.63v2.04h-6.63zM83.00,705.45h6.63v2.04h-6.63zM94.05,705.45h6.63v2.04h-6.63zM83.00,707.50h6.63v2.04h-6.63zM94.05,707.50h6.63v2.04h-6.63zM83.00,709.54h17.68v2.04h-17.68zM87.42,711.59h11.05v2.04h-11.05zM105.2,709.60h7v8.8h-7zM119.02,685.00h11.30v2.04h-11.30zM114.50,687.04h18.08v2.04h-18.08zM114.50,689.09h6.78v2.04h-6.78zM125.80,689.09h6.78v2.04h-6.78zM114.50,691.13h6.78v2.04h-6.78zM125.80,691.13h6.78v2.04h-6.78zM114.50,693.18h6.78v2.04h-6.78zM125.80,693.18h6.78v2.04h-6.78zM114.50,695.23h6.78v2.04h-6.78zM125.80,695.23h6.78v2.04h-6.78zM114.50,697.27h6.78v2.04h-6.78zM125.80,697.27h6.78v2.04h-6.78zM114.50,699.32h6.78v2.04h-6.78zM125.80,699.32h6.78v2.04h-6.78zM114.50,701.36h6.78v2.04h-6.78zM125.80,701.36h6.78v2.04h-6.78zM114.50,703.40h6.78v2.04h-6.78zM125.80,703.40h6.78v2.04h-6.78zM114.50,705.45h6.78v2.04h-6.78zM125.80,705.45h6.78v2.04h-6.78zM114.50,707.50h6.78v2.04h-6.78zM125.80,707.50h6.78v2.04h-6.78zM114.50,709.54h18.08v2.04h-18.08zM119.02,711.59h11.30v2.04h-11.30zM87.42,559.50h11.05v2.04h-11.05zM83.00,561.54h17.68v2.04h-17.68zM83.00,563.59h6.63v2.04h-6.63zM94.05,563.59h6.63v2.04h-6.63zM83.00,565.63h6.63v2.04h-6.63zM94.05,565.63h6.63v2.04h-6.63zM83.00,567.68h6.63v2.04h-6.63zM94.05,567.68h6.63v2.04h-6.63zM83.00,569.73h6.63v2.04h-6.63zM94.05,569.73h6.63v2.04h-6.63zM83.00,571.77h6.63v2.04h-6.63zM94.05,571.77h6.63v2.04h-6.63zM83.00,573.82h6.63v2.04h-6.63zM94.05,573.82h6.63v2.04h-6.63zM83.00,575.86h6.63v2.04h-6.63zM94.05,575.86h6.63v2.04h-6.63zM83.00,577.90h6.63v2.04h-6.63zM94.05,577.90h6.63v2.04h-6.63zM83.00,579.95h6.63v2.04h-6.63zM94.05,579.95h6.63v2.04h-6.63zM83.00,582.00h6.63v2.04h-6.63zM94.05,582.00h6.63v2.04h-6.63zM83.00,584.04h17.68v2.04h-17.68zM87.42,586.09h11.05v2.04h-11.05zM105.2,584.10h7v8.8h-7zM121.28,559.50h6.78v2.04h-6.78zM121.28,561.54h6.78v2.04h-6.78zM116.76,563.59h11.30v2.04h-11.30zM116.76,565.63h11.30v2.04h-11.30zM121.28,567.68h6.78v2.04h-6.78zM121.28,569.73h6.78v2.04h-6.78zM121.28,571.77h6.78v2.04h-6.78zM121.28,573.82h6.78v2.04h-6.78zM121.28,575.86h6.78v2.04h-6.78zM121.28,577.90h6.78v2.04h-6.78zM121.28,579.95h6.78v2.04h-6.78zM121.28,582.00h6.78v2.04h-6.78zM121.28,584.04h6.78v2.04h-6.78zM121.28,586.09h6.78v2.04h-6.78zM87.42,433.80h11.05v2.04h-11.05zM83.00,435.85h17.68v2.04h-17.68zM83.00,437.89h6.63v2.04h-6.63zM94.05,437.89h6.63v2.04h-6.63zM83.00,439.94h6.63v2.04h-6.63zM94.05,439.94h6.63v2.04h-6.63zM83.00,441.98h6.63v2.04h-6.63zM94.05,441.98h6.63v2.04h-6.63zM83.00,444.03h6.63v2.04h-6.63zM94.05,444.03h6.63v2.04h-6.63zM83.00,446.07h6.63v2.04h-6.63zM94.05,446.07h6.63v2.04h-6.63zM83.00,448.12h6.63v2.04h-6.63zM94.05,448.12h6.63v2.04h-6.63zM83.00,450.16h6.63v2.04h-6.63zM94.05,450.16h6.63v2.04h-6.63zM83.00,452.21h6.63v2.04h-6.63zM94.05,452.21h6.63v2.04h-6.63zM83.00,454.25h6.63v2.04h-6.63zM94.05,454.25h6.63v2.04h-6.63zM83.00,456.30h6.63v2.04h-6.63zM94.05,456.30h6.63v2.04h-6.63zM83.00,458.34h17.68v2.04h-17.68zM87.42,460.38h11.05v2.04h-11.05zM105.2,458.40h7v8.8h-7zM119.02,433.80h11.30v2.04h-11.30zM114.50,435.85h6.78v2.04h-6.78zM125.80,435.85h6.78v2.04h-6.78zM114.50,437.89h6.78v2.04h-6.78zM125.80,437.89h6.78v2.04h-6.78zM114.50,439.94h6.78v2.04h-6.78zM125.80,439.94h6.78v2.04h-6.78zM123.54,441.98h9.04v2.04h-9.04zM123.54,444.03h9.04v2.04h-9.04zM123.54,446.07h6.78v2.04h-6.78zM123.54,448.12h6.78v2.04h-6.78zM121.28,450.16h6.78v2.04h-6.78zM119.02,452.21h6.78v2.04h-6.78zM116.76,454.25h9.04v2.04h-9.04zM114.50,456.30h11.30v2.04h-11.30zM114.50,458.34h18.08v2.04h-18.08zM114.50,460.38h18.08v2.04h-18.08zM87.42,308.50h11.05v2.04h-11.05zM83.00,310.55h17.68v2.04h-17.68zM83.00,312.59h6.63v2.04h-6.63zM94.05,312.59h6.63v2.04h-6.63zM83.00,314.63h6.63v2.04h-6.63zM94.05,314.63h6.63v2.04h-6.63zM83.00,316.68h6.63v2.04h-6.63zM94.05,316.68h6.63v2.04h-6.63zM83.00,318.73h6.63v2.04h-6.63zM94.05,318.73h6.63v2.04h-6.63zM83.00,320.77h6.63v2.04h-6.63zM94.05,320.77h6.63v2.04h-6.63zM83.00,322.81h6.63v2.04h-6.63zM94.05,322.81h6.63v2.04h-6.63zM83.00,324.86h6.63v2.04h-6.63zM94.05,324.86h6.63v2.04h-6.63zM83.00,326.90h6.63v2.04h-6.63zM94.05,326.90h6.63v2.04h-6.63zM83.00,328.95h6.63v2.04h-6.63zM94.05,328.95h6.63v2.04h-6.63zM83.00,331.00h6.63v2.04h-6.63zM94.05,331.00h6.63v2.04h-6.63zM83.00,333.04h17.68v2.04h-17.68zM87.42,335.08h11.05v2.04h-11.05zM105.2,333.10h7v8.8h-7zM119.02,308.50h11.30v2.04h-11.30zM114.50,310.55h18.08v2.04h-18.08zM114.50,312.59h6.78v2.04h-6.78zM125.80,312.59h6.78v2.04h-6.78zM114.50,314.63h6.78v2.04h-6.78zM125.80,314.63h6.78v2.04h-6.78zM125.80,316.68h6.78v2.04h-6.78zM125.80,318.73h6.78v2.04h-6.78zM121.28,320.77h11.30v2.04h-11.30zM121.28,322.81h11.30v2.04h-11.30zM125.80,324.86h6.78v2.04h-6.78zM125.80,326.90h6.78v2.04h-6.78zM114.50,328.95h6.78v2.04h-6.78zM125.80,328.95h6.78v2.04h-6.78zM114.50,331.00h6.78v2.04h-6.78zM125.80,331.00h6.78v2.04h-6.78zM114.50,333.04h18.08v2.04h-18.08zM119.02,335.08h11.30v2.04h-11.30zM87.42,185.05h11.05v2.04h-11.05zM83.00,187.09h17.68v2.04h-17.68zM83.00,189.14h6.63v2.04h-6.63zM94.05,189.14h6.63v2.04h-6.63zM83.00,191.19h6.63v2.04h-6.63zM94.05,191.19h6.63v2.04h-6.63zM83.00,193.23h6.63v2.04h-6.63zM94.05,193.23h6.63v2.04h-6.63zM83.00,195.28h6.63v2.04h-6.63zM94.05,195.28h6.63v2.04h-6.63zM83.00,197.32h6.63v2.04h-6.63zM94.05,197.32h6.63v2.04h-6.63zM83.00,199.37h6.63v2.04h-6.63zM94.05,199.37h6.63v2.04h-6.63zM83.00,201.41h6.63v2.04h-6.63zM94.05,201.41h6.63v2.04h-6.63zM83.00,203.46h6.63v2.04h-6.63zM94.05,203.46h6.63v2.04h-6.63zM83.00,205.50h6.63v2.04h-6.63zM94.05,205.50h6.63v2.04h-6.63zM83.00,207.55h6.63v2.04h-6.63zM94.05,207.55h6.63v2.04h-6.63zM83.00,209.59h17.68v2.04h-17.68zM87.42,211.64h11.05v2.04h-11.05zM105.2,209.65h7v8.8h-7zM123.56,185.05h6.78v2.04h-6.78zM123.56,187.09h6.78v2.04h-6.78zM119.04,189.14h11.30v2.04h-11.30zM116.78,191.19h13.56v2.04h-13.56zM116.78,193.23h13.56v2.04h-13.56zM114.52,195.28h15.82v2.04h-15.82zM110.00,197.32h11.30v2.04h-11.30zM123.56,197.32h6.78v2.04h-6.78zM110.00,199.37h22.60v2.04h-22.60zM112.26,201.41h20.34v2.04h-20.34zM123.56,203.46h6.78v2.04h-6.78zM123.56,205.50h6.78v2.04h-6.78zM123.56,207.55h6.78v2.04h-6.78zM123.56,209.59h6.78v2.04h-6.78zM123.56,211.64h6.78v2.04h-6.78zM87.42,59.70h11.05v2.04h-11.05zM83.00,61.75h17.68v2.04h-17.68zM83.00,63.79h6.63v2.04h-6.63zM94.05,63.79h6.63v2.04h-6.63zM83.00,65.84h6.63v2.04h-6.63zM94.05,65.84h6.63v2.04h-6.63zM83.00,67.88h6.63v2.04h-6.63zM94.05,67.88h6.63v2.04h-6.63zM83.00,69.92h6.63v2.04h-6.63zM94.05,69.92h6.63v2.04h-6.63zM83.00,71.97h6.63v2.04h-6.63zM94.05,71.97h6.63v2.04h-6.63zM83.00,74.02h6.63v2.04h-6.63zM94.05,74.02h6.63v2.04h-6.63zM83.00,76.06h6.63v2.04h-6.63zM94.05,76.06h6.63v2.04h-6.63zM83.00,78.11h6.63v2.04h-6.63zM94.05,78.11h6.63v2.04h-6.63zM83.00,80.15h6.63v2.04h-6.63zM94.05,80.15h6.63v2.04h-6.63zM83.00,82.19h6.63v2.04h-6.63zM94.05,82.19h6.63v2.04h-6.63zM83.00,84.24h17.68v2.04h-17.68zM87.42,86.28h11.05v2.04h-11.05zM105.2,84.30h7v8.8h-7zM119.02,59.70h13.56v2.04h-13.56zM116.76,61.75h15.82v2.04h-15.82zM116.76,63.79h6.78v2.04h-6.78zM114.50,65.84h9.04v2.04h-9.04zM114.50,67.88h9.04v2.04h-9.04zM114.50,69.92h15.82v2.04h-15.82zM114.50,71.97h6.78v2.04h-6.78zM125.80,71.97h6.78v2.04h-6.78zM125.80,74.02h6.78v2.04h-6.78zM125.80,76.06h6.78v2.04h-6.78zM125.80,78.11h6.78v2.04h-6.78zM114.50,80.15h6.78v2.04h-6.78zM125.80,80.15h6.78v2.04h-6.78zM114.50,82.19h6.78v2.04h-6.78zM125.80,82.19h6.78v2.04h-6.78zM114.50,84.24h18.08v2.04h-18.08zM119.02,86.28h11.30v2.04h-11.30zM121.54,716.10h11.35v1.91h-11.35zM117.00,718.01h18.16v1.91h-18.16zM117.00,719.92h6.81v1.91h-6.81zM128.35,719.92h6.81v1.91h-6.81zM117.00,721.83h6.81v1.91h-6.81zM128.35,721.83h6.81v1.91h-6.81zM128.35,723.74h6.81v1.91h-6.81zM128.35,725.65h6.81v1.91h-6.81zM123.81,727.56h11.35v1.91h-11.35zM123.81,729.47h11.35v1.91h-11.35zM128.35,731.38h6.81v1.91h-6.81zM128.35,733.29h6.81v1.91h-6.81zM117.00,735.20h6.81v1.91h-6.81zM128.35,735.20h6.81v1.91h-6.81zM117.00,737.11h6.81v1.91h-6.81zM128.35,737.11h6.81v1.91h-6.81zM117.00,739.02h18.16v1.91h-18.16zM121.54,740.93h11.35v1.91h-11.35zM140.84,716.10h11.35v1.91h-11.35zM136.30,718.01h18.16v1.91h-18.16zM136.30,719.92h6.81v1.91h-6.81zM147.65,719.92h6.81v1.91h-6.81zM136.30,721.83h6.81v1.91h-6.81zM147.65,721.83h6.81v1.91h-6.81zM136.30,723.74h6.81v1.91h-6.81zM147.65,723.74h6.81v1.91h-6.81zM136.30,725.65h6.81v1.91h-6.81zM147.65,725.65h6.81v1.91h-6.81zM136.30,727.56h6.81v1.91h-6.81zM147.65,727.56h6.81v1.91h-6.81zM136.30,729.47h6.81v1.91h-6.81zM147.65,729.47h6.81v1.91h-6.81zM136.30,731.38h6.81v1.91h-6.81zM147.65,731.38h6.81v1.91h-6.81zM136.30,733.29h6.81v1.91h-6.81zM147.65,733.29h6.81v1.91h-6.81zM136.30,735.20h6.81v1.91h-6.81zM147.65,735.20h6.81v1.91h-6.81zM136.30,737.11h6.81v1.91h-6.81zM147.65,737.11h6.81v1.91h-6.81zM136.30,739.02h18.16v1.91h-18.16zM140.84,740.93h11.35v1.91h-11.35zM160.14,716.10h11.35v1.91h-11.35zM155.60,718.01h18.16v1.91h-18.16zM155.60,719.92h6.81v1.91h-6.81zM166.95,719.92h6.81v1.91h-6.81zM155.60,721.83h6.81v1.91h-6.81zM166.95,721.83h6.81v1.91h-6.81zM155.60,723.74h6.81v1.91h-6.81zM166.95,723.74h6.81v1.91h-6.81zM155.60,725.65h6.81v1.91h-6.81zM166.95,725.65h6.81v1.91h-6.81zM155.60,727.56h6.81v1.91h-6.81zM166.95,727.56h6.81v1.91h-6.81zM155.60,729.47h6.81v1.91h-6.81zM166.95,729.47h6.81v1.91h-6.81zM155.60,731.38h6.81v1.91h-6.81zM166.95,731.38h6.81v1.91h-6.81zM155.60,733.29h6.81v1.91h-6.81zM166.95,733.29h6.81v1.91h-6.81zM155.60,735.20h6.81v1.91h-6.81zM166.95,735.20h6.81v1.91h-6.81zM155.60,737.11h6.81v1.91h-6.81zM166.95,737.11h6.81v1.91h-6.81zM155.60,739.02h18.16v1.91h-18.16zM160.14,740.93h11.35v1.91h-11.35zM296.62,716.10h6.81v1.91h-6.81zM296.62,718.01h6.81v1.91h-6.81zM292.08,719.92h11.35v1.91h-11.35zM289.81,721.83h13.62v1.91h-13.62zM289.81,723.74h13.62v1.91h-13.62zM287.54,725.65h15.89v1.91h-15.89zM283.00,727.56h11.35v1.91h-11.35zM296.62,727.56h6.81v1.91h-6.81zM283.00,729.47h22.70v1.91h-22.70zM285.27,731.38h20.43v1.91h-20.43zM296.62,733.29h6.81v1.91h-6.81zM296.62,735.20h6.81v1.91h-6.81zM296.62,737.11h6.81v1.91h-6.81zM296.62,739.02h6.81v1.91h-6.81zM296.62,740.93h6.81v1.91h-6.81zM310.79,716.10h11.35v1.91h-11.35zM306.25,718.01h18.16v1.91h-18.16zM306.25,719.92h6.81v1.91h-6.81zM317.60,719.92h6.81v1.91h-6.81zM306.25,721.83h6.81v1.91h-6.81zM317.60,721.83h6.81v1.91h-6.81zM306.25,723.74h6.81v1.91h-6.81zM317.60,723.74h6.81v1.91h-6.81zM306.25,725.65h6.81v1.91h-6.81zM317.60,725.65h6.81v1.91h-6.81zM306.25,727.56h6.81v1.91h-6.81zM317.60,727.56h6.81v1.91h-6.81zM306.25,729.47h6.81v1.91h-6.81zM317.60,729.47h6.81v1.91h-6.81zM306.25,731.38h6.81v1.91h-6.81zM317.60,731.38h6.81v1.91h-6.81zM306.25,733.29h6.81v1.91h-6.81zM317.60,733.29h6.81v1.91h-6.81zM306.25,735.20h6.81v1.91h-6.81zM317.60,735.20h6.81v1.91h-6.81zM306.25,737.11h6.81v1.91h-6.81zM317.60,737.11h6.81v1.91h-6.81zM306.25,739.02h18.16v1.91h-18.16zM310.79,740.93h11.35v1.91h-11.35zM331.44,716.10h11.35v1.91h-11.35zM326.90,718.01h18.16v1.91h-18.16zM326.90,719.92h6.81v1.91h-6.81zM338.25,719.92h6.81v1.91h-6.81zM326.90,721.83h6.81v1.91h-6.81zM338.25,721.83h6.81v1.91h-6.81zM326.90,723.74h6.81v1.91h-6.81zM338.25,723.74h6.81v1.91h-6.81zM326.90,725.65h6.81v1.91h-6.81zM338.25,725.65h6.81v1.91h-6.81zM326.90,727.56h6.81v1.91h-6.81zM338.25,727.56h6.81v1.91h-6.81zM326.90,729.47h6.81v1.91h-6.81zM338.25,729.47h6.81v1.91h-6.81zM326.90,731.38h6.81v1.91h-6.81zM338.25,731.38h6.81v1.91h-6.81zM326.90,733.29h6.81v1.91h-6.81zM338.25,733.29h6.81v1.91h-6.81zM326.90,735.20h6.81v1.91h-6.81zM338.25,735.20h6.81v1.91h-6.81zM326.90,737.11h6.81v1.91h-6.81zM338.25,737.11h6.81v1.91h-6.81zM326.90,739.02h18.16v1.91h-18.16zM331.44,740.93h11.35v1.91h-11.35zM458.29,716.10h13.62v1.91h-13.62zM456.02,718.01h15.89v1.91h-15.89zM456.02,719.92h6.81v1.91h-6.81zM453.75,721.83h9.08v1.91h-9.08zM453.75,723.74h9.08v1.91h-9.08zM453.75,725.65h15.89v1.91h-15.89zM453.75,727.56h6.81v1.91h-6.81zM465.10,727.56h6.81v1.91h-6.81zM465.10,729.47h6.81v1.91h-6.81zM465.10,731.38h6.81v1.91h-6.81zM465.10,733.29h6.81v1.91h-6.81zM453.75,735.20h6.81v1.91h-6.81zM465.10,735.20h6.81v1.91h-6.81zM453.75,737.11h6.81v1.91h-6.81zM465.10,737.11h6.81v1.91h-6.81zM453.75,739.02h18.16v1.91h-18.16zM458.29,740.93h11.35v1.91h-11.35zM479.24,716.10h11.35v1.91h-11.35zM474.70,718.01h18.16v1.91h-18.16zM474.70,719.92h6.81v1.91h-6.81zM486.05,719.92h6.81v1.91h-6.81zM474.70,721.83h6.81v1.91h-6.81zM486.05,721.83h6.81v1.91h-6.81zM474.70,723.74h6.81v1.91h-6.81zM486.05,723.74h6.81v1.91h-6.81zM474.70,725.65h6.81v1.91h-6.81zM486.05,725.65h6.81v1.91h-6.81zM474.70,727.56h6.81v1.91h-6.81zM486.05,727.56h6.81v1.91h-6.81zM474.70,729.47h6.81v1.91h-6.81zM486.05,729.47h6.81v1.91h-6.81zM474.70,731.38h6.81v1.91h-6.81zM486.05,731.38h6.81v1.91h-6.81zM474.70,733.29h6.81v1.91h-6.81zM486.05,733.29h6.81v1.91h-6.81zM474.70,735.20h6.81v1.91h-6.81zM486.05,735.20h6.81v1.91h-6.81zM474.70,737.11h6.81v1.91h-6.81zM486.05,737.11h6.81v1.91h-6.81zM474.70,739.02h18.16v1.91h-18.16zM479.24,740.93h11.35v1.91h-11.35zM500.14,716.10h11.35v1.91h-11.35zM495.60,718.01h18.16v1.91h-18.16zM495.60,719.92h6.81v1.91h-6.81zM506.95,719.92h6.81v1.91h-6.81zM495.60,721.83h6.81v1.91h-6.81zM506.95,721.83h6.81v1.91h-6.81zM495.60,723.74h6.81v1.91h-6.81zM506.95,723.74h6.81v1.91h-6.81zM495.60,725.65h6.81v1.91h-6.81zM506.95,725.65h6.81v1.91h-6.81zM495.60,727.56h6.81v1.91h-6.81zM506.95,727.56h6.81v1.91h-6.81zM495.60,729.47h6.81v1.91h-6.81zM506.95,729.47h6.81v1.91h-6.81zM495.60,731.38h6.81v1.91h-6.81zM506.95,731.38h6.81v1.91h-6.81zM495.60,733.29h6.81v1.91h-6.81zM506.95,733.29h6.81v1.91h-6.81zM495.60,735.20h6.81v1.91h-6.81zM506.95,735.20h6.81v1.91h-6.81zM495.60,737.11h6.81v1.91h-6.81zM506.95,737.11h6.81v1.91h-6.81zM495.60,739.02h18.16v1.91h-18.16zM500.14,740.93h11.35v1.91h-11.35zM624.74,716.10h11.35v1.91h-11.35zM620.20,718.01h18.16v1.91h-18.16zM620.20,719.92h6.81v1.91h-6.81zM633.82,719.92h4.54v1.91h-4.54zM620.20,721.83h6.81v1.91h-6.81zM620.20,723.74h6.81v1.91h-6.81zM620.20,725.65h15.89v1.91h-15.89zM620.20,727.56h18.16v1.91h-18.16zM620.20,729.47h6.81v1.91h-6.81zM631.55,729.47h6.81v1.91h-6.81zM620.20,731.38h6.81v1.91h-6.81zM631.55,731.38h6.81v1.91h-6.81zM620.20,733.29h6.81v1.91h-6.81zM631.55,733.29h6.81v1.91h-6.81zM620.20,735.20h6.81v1.91h-6.81zM631.55,735.20h6.81v1.91h-6.81zM620.20,737.11h6.81v1.91h-6.81zM631.55,737.11h6.81v1.91h-6.81zM620.20,739.02h18.16v1.91h-18.16zM624.74,740.93h11.35v1.91h-11.35zM645.14,716.10h11.35v1.91h-11.35zM640.60,718.01h18.16v1.91h-18.16zM640.60,719.92h6.81v1.91h-6.81zM651.95,719.92h6.81v1.91h-6.81zM640.60,721.83h6.81v1.91h-6.81zM651.95,721.83h6.81v1.91h-6.81zM640.60,723.74h6.81v1.91h-6.81zM651.95,723.74h6.81v1.91h-6.81zM640.60,725.65h6.81v1.91h-6.81zM651.95,725.65h6.81v1.91h-6.81zM640.60,727.56h6.81v1.91h-6.81zM651.95,727.56h6.81v1.91h-6.81zM640.60,729.47h6.81v1.91h-6.81zM651.95,729.47h6.81v1.91h-6.81zM640.60,731.38h6.81v1.91h-6.81zM651.95,731.38h6.81v1.91h-6.81zM640.60,733.29h6.81v1.91h-6.81zM651.95,733.29h6.81v1.91h-6.81zM640.60,735.20h6.81v1.91h-6.81zM651.95,735.20h6.81v1.91h-6.81zM640.60,737.11h6.81v1.91h-6.81zM651.95,737.11h6.81v1.91h-6.81zM640.60,739.02h18.16v1.91h-18.16zM645.14,740.93h11.35v1.91h-11.35zM665.54,716.10h11.35v1.91h-11.35zM661.00,718.01h18.16v1.91h-18.16zM661.00,719.92h6.81v1.91h-6.81zM672.35,719.92h6.81v1.91h-6.81zM661.00,721.83h6.81v1.91h-6.81zM672.35,721.83h6.81v1.91h-6.81zM661.00,723.74h6.81v1.91h-6.81zM672.35,723.74h6.81v1.91h-6.81zM661.00,725.65h6.81v1.91h-6.81zM672.35,725.65h6.81v1.91h-6.81zM661.00,727.56h6.81v1.91h-6.81zM672.35,727.56h6.81v1.91h-6.81zM661.00,729.47h6.81v1.91h-6.81zM672.35,729.47h6.81v1.91h-6.81zM661.00,731.38h6.81v1.91h-6.81zM672.35,731.38h6.81v1.91h-6.81zM661.00,733.29h6.81v1.91h-6.81zM672.35,733.29h6.81v1.91h-6.81zM661.00,735.20h6.81v1.91h-6.81zM672.35,735.20h6.81v1.91h-6.81zM661.00,737.11h6.81v1.91h-6.81zM672.35,737.11h6.81v1.91h-6.81zM661.00,739.02h18.16v1.91h-18.16zM665.54,740.93h11.35v1.91h-11.35zM791.20,716.10h15.89v1.91h-15.89zM791.20,718.01h15.89v1.91h-15.89zM800.28,719.92h6.81v1.91h-6.81zM795.74,721.83h9.08v1.91h-9.08zM795.74,723.74h9.08v1.91h-9.08zM795.74,725.65h6.81v1.91h-6.81zM795.74,727.56h6.81v1.91h-6.81zM793.47,729.47h6.81v1.91h-6.81zM793.47,731.38h6.81v1.91h-6.81zM793.47,733.29h6.81v1.91h-6.81zM793.47,735.20h6.81v1.91h-6.81zM793.47,737.11h6.81v1.91h-6.81zM793.47,739.02h6.81v1.91h-6.81zM793.47,740.93h6.81v1.91h-6.81zM813.74,716.10h11.35v1.91h-11.35zM809.20,718.01h18.16v1.91h-18.16zM809.20,719.92h6.81v1.91h-6.81zM820.55,719.92h6.81v1.91h-6.81zM809.20,721.83h6.81v1.91h-6.81zM820.55,721.83h6.81v1.91h-6.81zM809.20,723.74h6.81v1.91h-6.81zM820.55,723.74h6.81v1.91h-6.81zM809.20,725.65h6.81v1.91h-6.81zM820.55,725.65h6.81v1.91h-6.81zM809.20,727.56h6.81v1.91h-6.81zM820.55,727.56h6.81v1.91h-6.81zM809.20,729.47h6.81v1.91h-6.81zM820.55,729.47h6.81v1.91h-6.81zM809.20,731.38h6.81v1.91h-6.81zM820.55,731.38h6.81v1.91h-6.81zM809.20,733.29h6.81v1.91h-6.81zM820.55,733.29h6.81v1.91h-6.81zM809.20,735.20h6.81v1.91h-6.81zM820.55,735.20h6.81v1.91h-6.81zM809.20,737.11h6.81v1.91h-6.81zM820.55,737.11h6.81v1.91h-6.81zM809.20,739.02h18.16v1.91h-18.16zM813.74,740.93h11.35v1.91h-11.35zM834.04,716.10h11.35v1.91h-11.35zM829.50,718.01h18.16v1.91h-18.16zM829.50,719.92h6.81v1.91h-6.81zM840.85,719.92h6.81v1.91h-6.81zM829.50,721.83h6.81v1.91h-6.81zM840.85,721.83h6.81v1.91h-6.81zM829.50,723.74h6.81v1.91h-6.81zM840.85,723.74h6.81v1.91h-6.81zM829.50,725.65h6.81v1.91h-6.81zM840.85,725.65h6.81v1.91h-6.81zM829.50,727.56h6.81v1.91h-6.81zM840.85,727.56h6.81v1.91h-6.81zM829.50,729.47h6.81v1.91h-6.81zM840.85,729.47h6.81v1.91h-6.81zM829.50,731.38h6.81v1.91h-6.81zM840.85,731.38h6.81v1.91h-6.81zM829.50,733.29h6.81v1.91h-6.81zM840.85,733.29h6.81v1.91h-6.81zM829.50,735.20h6.81v1.91h-6.81zM840.85,735.20h6.81v1.91h-6.81zM829.50,737.11h6.81v1.91h-6.81zM840.85,737.11h6.81v1.91h-6.81zM829.50,739.02h18.16v1.91h-18.16zM834.04,740.93h11.35v1.91h-11.35zM961.74,716.10h11.35v1.91h-11.35zM957.20,718.01h18.16v1.91h-18.16zM957.20,719.92h6.81v1.91h-6.81zM968.55,719.92h6.81v1.91h-6.81zM957.20,721.83h6.81v1.91h-6.81zM968.55,721.83h6.81v1.91h-6.81zM957.20,723.74h6.81v1.91h-6.81zM968.55,723.74h6.81v1.91h-6.81zM957.20,725.65h6.81v1.91h-6.81zM968.55,725.65h6.81v1.91h-6.81zM957.20,727.56h18.16v1.91h-18.16zM957.20,729.47h18.16v1.91h-18.16zM957.20,731.38h6.81v1.91h-6.81zM968.55,731.38h6.81v1.91h-6.81zM957.20,733.29h6.81v1.91h-6.81zM968.55,733.29h6.81v1.91h-6.81zM957.20,735.20h6.81v1.91h-6.81zM968.55,735.20h6.81v1.91h-6.81zM957.20,737.11h6.81v1.91h-6.81zM968.55,737.11h6.81v1.91h-6.81zM957.20,739.02h18.16v1.91h-18.16zM961.74,740.93h11.35v1.91h-11.35zM982.54,716.10h11.35v1.91h-11.35zM978.00,718.01h18.16v1.91h-18.16zM978.00,719.92h6.81v1.91h-6.81zM989.35,719.92h6.81v1.91h-6.81zM978.00,721.83h6.81v1.91h-6.81zM989.35,721.83h6.81v1.91h-6.81zM978.00,723.74h6.81v1.91h-6.81zM989.35,723.74h6.81v1.91h-6.81zM978.00,725.65h6.81v1.91h-6.81zM989.35,725.65h6.81v1.91h-6.81zM978.00,727.56h6.81v1.91h-6.81zM989.35,727.56h6.81v1.91h-6.81zM978.00,729.47h6.81v1.91h-6.81zM989.35,729.47h6.81v1.91h-6.81zM978.00,731.38h6.81v1.91h-6.81zM989.35,731.38h6.81v1.91h-6.81zM978.00,733.29h6.81v1.91h-6.81zM989.35,733.29h6.81v1.91h-6.81zM978.00,735.20h6.81v1.91h-6.81zM989.35,735.20h6.81v1.91h-6.81zM978.00,737.11h6.81v1.91h-6.81zM989.35,737.11h6.81v1.91h-6.81zM978.00,739.02h18.16v1.91h-18.16zM982.54,740.93h11.35v1.91h-11.35zM1003.14,716.10h11.35v1.91h-11.35zM998.60,718.01h18.16v1.91h-18.16zM998.60,719.92h6.81v1.91h-6.81zM1009.95,719.92h6.81v1.91h-6.81zM998.60,721.83h6.81v1.91h-6.81zM1009.95,721.83h6.81v1.91h-6.81zM998.60,723.74h6.81v1.91h-6.81zM1009.95,723.74h6.81v1.91h-6.81zM998.60,725.65h6.81v1.91h-6.81zM1009.95,725.65h6.81v1.91h-6.81zM998.60,727.56h6.81v1.91h-6.81zM1009.95,727.56h6.81v1.91h-6.81zM998.60,729.47h6.81v1.91h-6.81zM1009.95,729.47h6.81v1.91h-6.81zM998.60,731.38h6.81v1.91h-6.81zM1009.95,731.38h6.81v1.91h-6.81zM998.60,733.29h6.81v1.91h-6.81zM1009.95,733.29h6.81v1.91h-6.81zM998.60,735.20h6.81v1.91h-6.81zM1009.95,735.20h6.81v1.91h-6.81zM998.60,737.11h6.81v1.91h-6.81zM1009.95,737.11h6.81v1.91h-6.81zM998.60,739.02h18.16v1.91h-18.16zM1003.14,740.93h11.35v1.91h-11.35z" fill="#000"/>
<text x="364.3" y="807.3" font-family="Liberation Sans, sans-serif" font-weight="bold" font-size="47" textLength="388" lengthAdjust="spacingAndGlyphs" stroke="#000" stroke-width="3.4" stroke-linejoin="miter">Wavelength [nm]</text>
<text transform="translate(51.5,600.3) rotate(-90)" x="0" y="0" font-family="Liberation Sans, sans-serif" font-weight="bold" font-size="47" textLength="430.5" lengthAdjust="spacingAndGlyphs" stroke="#000" stroke-width="3.4" stroke-linejoin="miter">Absorbance [a.u.]</text>
<path d="M42,15 H61 V33 H42 Z" fill="#000"/>
<path d="M55,9 H62 V12 H66 V33 H63 V37 H62 V42 H55 V36 H58 V13 H55 Z" fill="#000"/>
</g>
</svg>
</body></html>
